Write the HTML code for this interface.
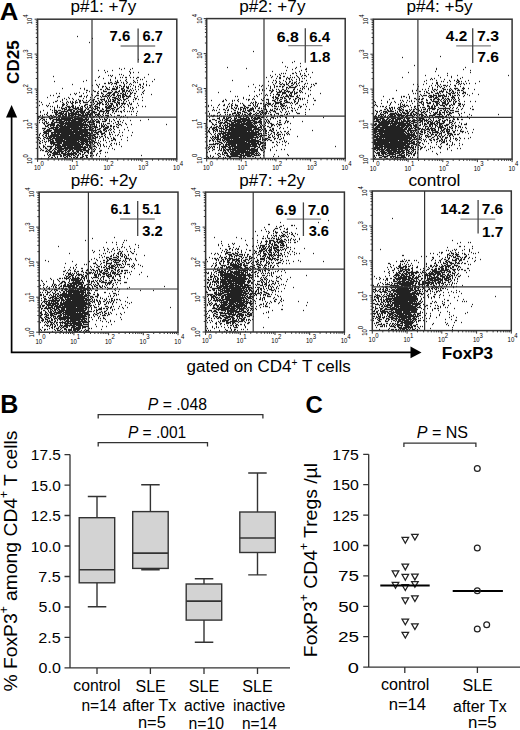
<!DOCTYPE html>
<html><head><meta charset="utf-8"><style>
html,body{margin:0;padding:0;background:#fff;width:520px;height:730px;overflow:hidden}
svg{display:block}
text{font-family:"Liberation Sans",sans-serif;fill:#000}
</style></head><body>
<svg width="520" height="730" viewBox="0 0 520 730">
<defs><path id="dp1" d="M77 36.5h1m14 2h1m-4 4h1m48 17h1m-20 9h1m4 0h1m7 0h1m-12 1h1m8 0h1m-33 1h1m5 0h1m7 0h1m-6 1h1m21 0h1m-25 1h1m24 0h1m2 0h1m4 0h1m-9 1h1m-12 1h1m1 0h1m26 0h1m-41 1h1m1 0h1m1 0h1m10 0h1m5 0h1m-77 1h1m45 0h1m11 0h1m-14 1h1m16 0h1m4 0h1m1 0h1m2 0h2m3 0h1m2 0h1m3 0h2m5 0h1m-42 1h1m11 0h1m20 0h1m-27 1h1m15 0h1m13 0h1m1 0h1m11 0h1m-69 1h1m8 0h1m14 0h1m6 0h1m2 0h1m4 0h1m7 0h1m3 0h1m-84 1h1m28 0h1m31 0h1m1 0h1m8 0h1m7 0h1m11 0h1m5 0h1m-45 1h1m1 0h2m4 0h3m2 0h1m1 0h1m3 0h1m5 0h1m1 0h1m1 0h1m-34 1h2m2 0h2m2 0h1m1 0h3m6 0h1m2 0h1m3 0h1m12 0h1m-72 1h1m23 0h1m2 0h1m11 0h1m4 0h1m7 0h1m4 0h1m1 0h1m7 0h2m2 0h1m2 0h1m-55 1h1m4 0h1m21 0h2m3 0h1m8 0h1m6 0h1m5 0h1m2 0h1m-52 1h1m3 0h2m1 0h1m7 0h1m1 0h1m1 0h1m3 0h1m1 0h2m1 0h1m1 0h1m1 0h1m4 0h1m2 0h1m3 0h1m-45 1h1m3 0h1m3 0h1m2 0h1m6 0h2m1 0h1m3 0h1m2 0h3m6 0h1m4 0h1m2 0h1m-82 1h1m17 0h1m3 0h1m21 0h2m4 0h3m1 0h2m3 0h3m3 0h2m3 0h1m9 0h1m-59 1h1m15 0h2m3 0h1m1 0h3m2 0h5m4 0h2m1 0h1m5 0h1m4 0h1m2 0h1m-53 1h2m5 0h1m9 0h1m7 0h1m7 0h1m2 0h3m1 0h2m1 0h1m1 0h1m1 0h1m10 0h1m-56 1h1m4 0h2m2 0h1m4 0h4m5 0h1m2 0h2m1 0h2m2 0h3m1 0h1m1 0h2m6 0h1m6 0h1m-65 1h1m6 0h1m10 0h1m3 0h1m6 0h4m2 0h4m4 0h1m2 0h1m4 0h1m1 0h1m9 0h1m-87 1h1m2 0h1m14 0h1m1 0h1m6 0h1m13 0h2m2 0h2m4 0h4m2 0h2m3 0h1m1 0h2m1 0h1m1 0h1m1 0h1m2 0h2m2 0h2m7 0h1m-74 1h1m4 0h1m15 0h1m11 0h1m2 0h1m2 0h1m2 0h3m2 0h1m4 0h4m4 0h1m10 0h1m9 0h1m-102 1h1m2 0h1m27 0h1m5 0h1m4 0h1m3 0h3m3 0h1m2 0h1m1 0h3m1 0h1m1 0h2m2 0h4m1 0h2m1 0h2m2 0h1m4 0h1m-77 1h2m19 0h3m2 0h1m1 0h1m8 0h1m4 0h1m1 0h5m1 0h1m1 0h1m5 0h1m1 0h1m1 0h1m1 0h3m1 0h5m6 0h1m-91 1h1m9 0h1m10 0h1m17 0h1m3 0h1m3 0h1m6 0h1m5 0h1m1 0h1m2 0h4m2 0h1m1 0h1m1 0h2m4 0h1m5 0h1m7 0h1m-79 1h1m4 0h1m2 0h1m10 0h1m13 0h2m5 0h1m2 0h1m1 0h1m4 0h4m1 0h1m3 0h1m2 0h2m7 0h2m-75 1h1m3 0h1m6 0h1m4 0h1m11 0h1m2 0h2m5 0h5m3 0h1m1 0h1m1 0h2m1 0h1m1 0h2m1 0h1m2 0h3m7 0h1m1 0h1m2 0h1m-82 1h1m4 0h1m13 0h1m2 0h2m1 0h1m3 0h1m2 0h1m2 0h2m4 0h1m2 0h1m2 0h1m1 0h1m1 0h1m1 0h1m2 0h3m2 0h2m1 0h1m2 0h1m3 0h1m13 0h1m-104 1h1m15 0h2m3 0h1m6 0h1m2 0h1m1 0h1m2 0h1m3 0h2m2 0h1m4 0h1m4 0h1m1 0h2m2 0h1m2 0h1m2 0h2m1 0h3m1 0h3m2 0h1m5 0h1m2 0h1m6 0h1m-93 1h1m11 0h1m8 0h1m3 0h1m1 0h1m1 0h1m1 0h2m1 0h3m1 0h1m3 0h5m2 0h2m1 0h1m3 0h1m1 0h3m3 0h1m1 0h1m6 0h2m1 0h3m3 0h1m5 0h1m-81 1h1m13 0h1m2 0h1m4 0h2m2 0h1m4 0h1m13 0h1m2 0h4m1 0h1m3 0h1m1 0h1m1 0h3m3 0h1m1 0h2m1 0h5m3 0h1m1 0h1m5 0h1m-96 1h1m19 0h3m2 0h1m4 0h1m12 0h3m3 0h1m1 0h1m2 0h2m1 0h1m2 0h2m1 0h2m1 0h1m2 0h2m3 0h2m1 0h1m2 0h1m1 0h1m2 0h1m2 0h2m-93 1h1m6 0h1m1 0h1m8 0h1m4 0h2m2 0h1m5 0h2m5 0h1m4 0h2m3 0h3m3 0h1m3 0h1m7 0h1m1 0h3m1 0h1m2 0h2m3 0h1m6 0h1m9 0h1m-92 1h1m2 0h1m1 0h1m4 0h1m4 0h1m4 0h3m1 0h3m1 0h1m5 0h2m1 0h1m2 0h1m2 0h1m3 0h4m7 0h2m1 0h4m1 0h1m3 0h1m2 0h1m2 0h1m4 0h1m13 0h1m2 0h1m-92 1h1m2 0h1m1 0h1m1 0h1m3 0h2m1 0h3m1 0h2m1 0h1m1 0h2m1 0h1m1 0h1m2 0h1m1 0h1m1 0h2m1 0h1m2 0h1m1 0h3m5 0h6m3 0h2m3 0h1m1 0h1m2 0h1m5 0h1m1 0h1m3 0h1m-83 1h1m6 0h4m1 0h1m2 0h1m3 0h6m1 0h3m3 0h1m1 0h1m2 0h1m1 0h1m1 0h3m1 0h1m2 0h1m3 0h4m1 0h3m3 0h2m11 0h1m2 0h1m-84 1h1m3 0h1m7 0h1m1 0h3m1 0h5m2 0h2m1 0h5m2 0h1m1 0h2m3 0h1m1 0h2m1 0h1m4 0h2m2 0h1m3 0h1m1 0h1m1 0h1m1 0h2m6 0h1m7 0h1m-90 1h1m8 0h1m1 0h3m1 0h3m3 0h1m2 0h5m1 0h2m2 0h1m2 0h3m1 0h2m3 0h4m4 0h2m1 0h2m3 0h5m2 0h2m2 0h1m6 0h1m-84 1h1m13 0h1m1 0h2m3 0h7m2 0h2m1 0h2m1 0h9m3 0h2m2 0h3m4 0h6m1 0h3m4 0h1m1 0h2m1 0h1m1 0h2m2 0h1m2 0h1m1 0h1m1 0h1m1 0h1m3 0h1m-98 1h1m6 0h1m4 0h1m1 0h4m1 0h3m1 0h1m2 0h1m1 0h1m2 0h3m1 0h4m1 0h5m1 0h4m1 0h6m2 0h1m3 0h1m2 0h1m1 0h1m3 0h1m8 0h1m-75 1h1m7 0h2m1 0h6m1 0h2m1 0h9m1 0h1m2 0h3m1 0h1m1 0h2m1 0h3m1 0h1m3 0h2m3 0h1m1 0h1m1 0h2m5 0h1m21 0h1m-93 1h1m1 0h1m8 0h3m2 0h3m1 0h3m1 0h2m1 0h10m1 0h2m1 0h8m2 0h5m2 0h1m7 0h1m20 0h1m-92 1h1m1 0h1m4 0h1m2 0h2m1 0h1m2 0h1m1 0h3m1 0h2m1 0h2m1 0h6m1 0h1m2 0h10m1 0h2m1 0h1m2 0h1m1 0h2m1 0h1m2 0h1m1 0h4m2 0h1m5 0h3m5 0h1m10 0h1m-99 1h2m2 0h1m5 0h2m1 0h2m1 0h2m2 0h3m1 0h5m1 0h2m1 0h2m1 0h5m2 0h4m1 0h2m1 0h2m2 0h2m1 0h1m1 0h2m1 0h2m4 0h2m5 0h1m6 0h1m1 0h1m-82 1h3m4 0h1m2 0h3m1 0h2m1 0h1m1 0h15m1 0h5m1 0h5m2 0h4m5 0h1m1 0h1m4 0h1m13 0h1m6 0h1m-90 1h1m2 0h2m6 0h4m3 0h1m1 0h2m1 0h12m1 0h9m2 0h2m1 0h1m2 0h1m7 0h1m4 0h1m2 0h1m8 0h1m-77 1h1m2 0h2m1 0h1m3 0h1m2 0h18m1 0h17m2 0h2m1 0h1m1 0h2m2 0h1m1 0h1m1 0h3m2 0h1m3 0h1m5 0h1m28 0h1m-110 1h1m2 0h1m1 0h1m7 0h2m2 0h6m2 0h12m2 0h7m1 0h2m2 0h1m1 0h2m1 0h1m2 0h1m6 0h2m2 0h1m4 0h1m8 0h1m6 0h1m9 0h1m-96 1h2m5 0h2m2 0h1m2 0h6m1 0h1m1 0h2m1 0h12m1 0h3m1 0h3m1 0h3m1 0h4m2 0h4m3 0h1m1 0h1m5 0h2m1 0h1m-82 1h1m2 0h1m1 0h1m1 0h1m1 0h1m2 0h2m1 0h10m1 0h17m1 0h3m1 0h7m2 0h4m15 0h1m2 0h1m3 0h1m-80 1h2m1 0h2m3 0h4m4 0h25m1 0h1m3 0h1m3 0h2m4 0h1m1 0h1m1 0h1m3 0h3m3 0h1m4 0h1m6 0h1m-82 1h1m3 0h7m2 0h2m1 0h4m1 0h23m1 0h6m1 0h1m4 0h1m1 0h1m1 0h1m10 0h2m1 0h2m5 0h1m4 0h1m34 0h1m-122 1h1m1 0h2m1 0h5m1 0h7m1 0h2m1 0h22m1 0h1m3 0h1m1 0h1m2 0h1m1 0h2m1 0h1m1 0h1m3 0h2m6 0h1m2 0h1m-77 1h3m2 0h1m2 0h1m2 0h2m1 0h20m1 0h3m1 0h1m1 0h1m1 0h3m1 0h5m2 0h1m1 0h4m2 0h2m1 0h2m1 0h2m1 0h1m-69 1h1m2 0h8m1 0h28m1 0h3m2 0h4m3 0h1m1 0h1m1 0h4m4 0h1m3 0h2m8 0h1m-86 1h4m3 0h5m1 0h3m1 0h11m1 0h11m2 0h2m3 0h2m1 0h2m1 0h1m3 0h2m3 0h4m2 0h1m2 0h1m-70 1h1m2 0h3m3 0h40m2 0h1m1 0h3m3 0h3m3 0h1m1 0h1m2 0h1m9 0h1m-82 1h1m2 0h6m2 0h18m1 0h5m1 0h9m1 0h8m3 0h1m2 0h2m1 0h1m1 0h1m1 0h1m8 0h1m8 0h1m-85 1h7m3 0h34m3 0h1m1 0h1m1 0h1m2 0h4m3 0h2m6 0h1m-71 1h4m1 0h1m2 0h39m1 0h2m1 0h5m1 0h2m2 0h1m4 0h1m1 0h1m2 0h1m4 0h1m2 0h1m9 0h1m-93 1h1m3 0h5m2 0h2m1 0h2m1 0h3m1 0h13m1 0h8m1 0h9m3 0h2m3 0h4m4 0h1m-71 1h1m3 0h1m2 0h1m1 0h1m2 0h37m1 0h2m2 0h3m1 0h2m2 0h2m2 0h1m3 0h2m1 0h1m5 0h1m-80 1h1m2 0h1m2 0h2m1 0h1m1 0h9m1 0h9m1 0h10m1 0h14m9 0h1m10 0h1m1 0h1m4 0h1m8 0h1m-89 1h1m2 0h1m1 0h40m1 0h2m1 0h1m1 0h2m1 0h1m1 0h1m1 0h2m2 0h1m4 0h1m9 0h1m-83 1h2m4 0h2m1 0h1m1 0h3m1 0h2m1 0h28m1 0h1m1 0h4m1 0h2m1 0h3m2 0h1m4 0h1m1 0h1m5 0h1m13 0h1m-88 1h1m2 0h1m2 0h5m1 0h35m1 0h3m1 0h4m3 0h1m3 0h1m4 0h1m2 0h1m1 0h2m-77 1h1m5 0h1m3 0h1m1 0h3m2 0h8m1 0h28m3 0h1m7 0h1m9 0h3m5 0h1m-83 1h1m2 0h1m5 0h3m1 0h2m1 0h10m1 0h13m1 0h8m1 0h1m1 0h3m1 0h1m2 0h1m4 0h1m1 0h1m5 0h2m2 0h1m11 0h1m-88 1h1m3 0h1m1 0h1m1 0h1m1 0h4m2 0h21m1 0h2m1 0h10m1 0h3m5 0h1m8 0h1m-71 1h1m2 0h1m2 0h1m4 0h12m1 0h16m1 0h4m1 0h3m1 0h4m1 0h3m1 0h1m7 0h1m12 0h1m-81 1h2m9 0h5m2 0h5m1 0h17m1 0h4m1 0h2m1 0h2m1 0h1m1 0h1m2 0h1m1 0h1m11 0h1m2 0h1m1 0h1m-72 1h1m5 0h1m1 0h7m2 0h22m1 0h4m1 0h1m2 0h1m3 0h1m2 0h1m2 0h1m6 0h1m5 0h1m2 0h1m-77 1h1m9 0h1m1 0h6m1 0h19m1 0h1m3 0h5m3 0h1m3 0h1m1 0h1m2 0h1m7 0h1m-73 1h1m3 0h2m2 0h6m2 0h1m1 0h9m1 0h6m1 0h9m1 0h2m1 0h1m1 0h2m2 0h3m4 0h1m3 0h1m1 0h1m2 0h1m11 0h1m-83 1h1m3 0h1m1 0h1m4 0h2m3 0h7m2 0h24m1 0h3m4 0h1m-57 1h1m4 0h2m3 0h2m2 0h2m1 0h24m2 0h3m2 0h1m1 0h2m2 0h1m4 0h1m8 0h1m3 0h1m-72 1h1m5 0h1m1 0h2m2 0h1m1 0h2m1 0h6m1 0h3m1 0h4m1 0h12m2 0h2m1 0h1m1 0h1m1 0h1m18 0h1m-75 1h1m1 0h2m2 0h1m1 0h2m2 0h1m1 0h1m2 0h5m2 0h3m1 0h3m1 0h2m2 0h6m1 0h6m5 0h1m5 0h2m-57 1h3m1 0h3m2 0h2m1 0h7m1 0h1m1 0h3m2 0h2m2 0h3m1 0h3m3 0h3m2 0h1m1 0h2m4 0h2m-53 1h1m1 0h2m1 0h7m1 0h2m2 0h2m1 0h1m2 0h1m1 0h3m1 0h2m3 0h1m1 0h2m1 0h2m1 0h2m13 0h1m1 0h1m-61 1h1m4 0h6m1 0h1m1 0h5m1 0h10m2 0h2m3 0h1m3 0h1m1 0h3m4 0h1m2 0h1m-54 1h1m1 0h2m2 0h8m2 0h11m1 0h2m1 0h1m1 0h1m1 0h2m12 0h1m-53 1h1m3 0h1m1 0h1m1 0h3m5 0h2m1 0h3m1 0h3m1 0h1m1 0h2m2 0h2m3 0h1m2 0h3m2 0h2m1 0h1m2 0h1m44 0h1m-93 1h1m4 0h1m2 0h1m2 0h2m1 0h1m2 0h2m1 0h2m4 0h1m1 0h1m4 0h2m2 0h1m3 0h1m8 0h1m5 0h1m-58 1h1m2 0h2m2 0h1m1 0h1m6 0h2m1 0h1m3 0h1m1 0h2m1 0h2m2 0h3m3 0h2m-47 1h1m20 0h1m2 0h2m2 0h1m5 0h2m3 0h1m3 0h1m23 0h1"/></defs>
<use href="#dp1" fill="none" stroke="#000" stroke-opacity="0.25" stroke-width="2.2"/>
<use href="#dp1" fill="none" stroke="#222" stroke-width="1.1"/>
<path d="M92 19.2V158.9M37.6 117.1H176.8" stroke="#333" stroke-width="1.2" fill="none"/>
<rect x="37.6" y="19.2" width="139.20" height="139.70" fill="none" stroke="#333" stroke-width="1.5"/>
<path d="M48.1 158.9v1.8M37.6 148.4h-1.8M54.2 158.9v1.8M37.6 142.2h-1.8M58.6 158.9v1.8M37.6 137.9h-1.8M61.9 158.9v1.8M37.6 134.5h-1.8M64.7 158.9v1.8M37.6 131.7h-1.8M67.0 158.9v1.8M37.6 129.4h-1.8M69.0 158.9v1.8M37.6 127.4h-1.8M70.8 158.9v1.8M37.6 125.6h-1.8M72.4 158.9v3M37.6 124.0h-3M82.9 158.9v1.8M37.6 113.5h-1.8M89.0 158.9v1.8M37.6 107.3h-1.8M93.4 158.9v1.8M37.6 102.9h-1.8M96.7 158.9v1.8M37.6 99.6h-1.8M99.5 158.9v1.8M37.6 96.8h-1.8M101.8 158.9v1.8M37.6 94.5h-1.8M103.8 158.9v1.8M37.6 92.4h-1.8M105.6 158.9v1.8M37.6 90.6h-1.8M107.2 158.9v3M37.6 89.0h-3M117.7 158.9v1.8M37.6 78.5h-1.8M123.8 158.9v1.8M37.6 72.4h-1.8M128.2 158.9v1.8M37.6 68.0h-1.8M131.5 158.9v1.8M37.6 64.6h-1.8M134.3 158.9v1.8M37.6 61.9h-1.8M136.6 158.9v1.8M37.6 59.5h-1.8M138.6 158.9v1.8M37.6 57.5h-1.8M140.4 158.9v1.8M37.6 55.7h-1.8M142.0 158.9v3M37.6 54.1h-3M152.5 158.9v1.8M37.6 43.6h-1.8M158.6 158.9v1.8M37.6 37.5h-1.8M163.0 158.9v1.8M37.6 33.1h-1.8M166.3 158.9v1.8M37.6 29.7h-1.8M169.1 158.9v1.8M37.6 26.9h-1.8M171.4 158.9v1.8M37.6 24.6h-1.8M173.4 158.9v1.8M37.6 22.6h-1.8M175.2 158.9v1.8M37.6 20.8h-1.8M176.8 158.9v3M37.6 19.2h-3M37.6 158.9h-3M37.6 158.9v3" stroke="#333" stroke-width="1" fill="none"/>
<text x="33.9" y="170.3" font-size="6.6" fill="#222" textLength="10" lengthAdjust="spacingAndGlyphs">10<tspan dy="-4.2">0</tspan></text>
<text transform="translate(32.4,164.1) rotate(-90)" font-size="6.6" fill="#222" textLength="10" lengthAdjust="spacingAndGlyphs">10<tspan dy="-4.2">0</tspan></text>
<text x="68.7" y="170.3" font-size="6.6" fill="#222" textLength="10" lengthAdjust="spacingAndGlyphs">10<tspan dy="-4.2">1</tspan></text>
<text transform="translate(32.4,129.2) rotate(-90)" font-size="6.6" fill="#222" textLength="10" lengthAdjust="spacingAndGlyphs">10<tspan dy="-4.2">1</tspan></text>
<text x="103.5" y="170.3" font-size="6.6" fill="#222" textLength="10" lengthAdjust="spacingAndGlyphs">10<tspan dy="-4.2">2</tspan></text>
<text transform="translate(32.4,94.2) rotate(-90)" font-size="6.6" fill="#222" textLength="10" lengthAdjust="spacingAndGlyphs">10<tspan dy="-4.2">2</tspan></text>
<text x="138.3" y="170.3" font-size="6.6" fill="#222" textLength="10" lengthAdjust="spacingAndGlyphs">10<tspan dy="-4.2">3</tspan></text>
<text transform="translate(32.4,59.3) rotate(-90)" font-size="6.6" fill="#222" textLength="10" lengthAdjust="spacingAndGlyphs">10<tspan dy="-4.2">3</tspan></text>
<text x="173.1" y="170.3" font-size="6.6" fill="#222" textLength="10" lengthAdjust="spacingAndGlyphs">10<tspan dy="-4.2">4</tspan></text>
<text transform="translate(32.4,24.4) rotate(-90)" font-size="6.6" fill="#222" textLength="10" lengthAdjust="spacingAndGlyphs">10<tspan dy="-4.2">4</tspan></text>
<text x="70.40" y="12.30" font-size="16.6" textLength="66.03" lengthAdjust="spacingAndGlyphs">p#1: +7y</text>
<path d="M120.6 46H155.2" stroke="#808080" stroke-width="1.3"/>
<path d="M138.1 28.5V62.7" stroke="#444" stroke-width="1.3"/>
<text x="109.56" y="41.20" font-size="14.6" font-weight="bold" textLength="20.78" lengthAdjust="spacingAndGlyphs">7.6</text>
<text x="142.57" y="41.20" font-size="14.6" font-weight="bold" textLength="20.17" lengthAdjust="spacingAndGlyphs">6.7</text>
<text x="143.21" y="62.50" font-size="14.6" font-weight="bold" textLength="19.50" lengthAdjust="spacingAndGlyphs">2.7</text>
<defs><path id="dp2" d="M253 51.5h1m40 10h1m-13 1h1m9 0h1m7 1h1m-16 3h1m14 0h1m-74 1h1m59 0h1m8 0h1m-51 1h1m48 0h1m10 0h1m-15 1h1m12 0h2m-21 1h1m14 0h1m-30 1h1m26 0h1m6 0h1m-12 1h1m16 0h1m-32 1h1m1 0h1m1 0h1m6 0h2m2 0h1m3 0h1m3 0h1m-30 1h1m3 0h1m20 0h1m7 0h1m-39 1h1m9 0h1m9 0h1m5 0h1m5 0h1m1 0h2m-34 1h1m4 0h1m5 0h2m12 0h1m3 0h1m4 0h1m-41 1h1m4 0h1m7 0h2m6 0h1m2 0h1m1 0h1m1 0h1m3 0h1m11 0h1m-35 1h1m2 0h2m5 0h1m1 0h2m9 0h1m2 0h1m1 0h1m-19 1h1m2 0h1m1 0h1m4 0h1m2 0h1m-68 1h1m40 0h1m1 0h1m7 0h1m8 0h1m6 0h1m6 0h1m-39 1h1m7 0h1m2 0h1m5 0h1m3 0h2m5 0h1m4 0h2m-31 1h1m3 0h1m3 0h1m5 0h1m2 0h1m2 0h1m1 0h2m3 0h1m-25 1h1m3 0h1m2 0h1m3 0h1m1 0h1m2 0h2m1 0h1m1 0h1m1 0h1m6 0h1m1 0h1m7 0h2m-64 1h1m19 0h1m6 0h2m1 0h2m1 0h2m5 0h1m2 0h1m7 0h1m6 0h1m1 0h1m-55 1h1m2 0h1m5 0h1m5 0h1m9 0h1m3 0h1m2 0h2m4 0h1m1 0h1m14 0h1m-67 1h1m12 0h1m8 0h1m3 0h1m1 0h2m1 0h2m1 0h2m5 0h2m4 0h2m5 0h1m1 0h1m1 0h1m4 0h1m-57 1h1m14 0h1m3 0h1m7 0h1m3 0h2m1 0h7m7 0h1m6 0h1m-45 1h1m3 0h1m15 0h1m1 0h1m5 0h1m5 0h1m1 0h1m1 0h1m3 0h1m-50 1h1m2 0h1m9 0h1m3 0h1m1 0h1m3 0h2m2 0h1m6 0h2m2 0h1m4 0h1m5 0h1m-50 1h1m2 0h1m1 0h1m4 0h2m1 0h2m5 0h1m1 0h1m2 0h2m1 0h1m5 0h1m5 0h2m9 0h1m-81 1h1m23 0h1m16 0h2m3 0h1m2 0h3m2 0h1m1 0h4m2 0h1m1 0h1m4 0h1m1 0h1m-84 1h1m52 0h1m5 0h4m1 0h4m2 0h1m1 0h3m1 0h1m1 0h2m2 0h1m1 0h1m-42 1h1m8 0h1m6 0h1m4 0h4m4 0h2m2 0h3m8 0h1m14 0h1m-62 1h1m6 0h1m6 0h1m2 0h4m2 0h1m3 0h1m2 0h1m1 0h1m2 0h1m15 0h1m-62 1h1m6 0h1m8 0h1m1 0h1m2 0h1m7 0h2m1 0h1m4 0h2m1 0h3m5 0h1m1 0h1m8 0h1m-74 1h1m1 0h1m16 0h1m2 0h1m15 0h1m1 0h1m2 0h1m4 0h1m1 0h4m1 0h4m2 0h2m10 0h1m-66 1h1m20 0h1m7 0h2m1 0h3m2 0h3m1 0h1m3 0h1m8 0h2m-56 1h1m9 0h1m9 0h1m9 0h1m2 0h3m3 0h1m1 0h2m3 0h2m4 0h2m2 0h2m1 0h1m1 0h1m8 0h1m-89 1h1m12 0h1m7 0h1m1 0h2m2 0h1m1 0h1m6 0h1m4 0h3m6 0h1m1 0h1m2 0h2m4 0h1m2 0h1m3 0h1m1 0h1m2 0h1m1 0h1m1 0h1m-92 1h1m11 0h1m2 0h1m5 0h1m1 0h1m2 0h1m10 0h1m13 0h2m4 0h1m3 0h3m2 0h1m1 0h1m4 0h3m7 0h1m3 0h1m8 0h1m6 0h2m-94 1h2m8 0h1m5 0h1m16 0h1m12 0h1m5 0h2m4 0h2m2 0h1m1 0h2m6 0h2m2 0h1m-48 1h1m1 0h1m1 0h2m9 0h1m1 0h1m6 0h6m4 0h5m1 0h1m2 0h1m2 0h1m9 0h1m-79 1h1m2 0h1m7 0h1m1 0h1m7 0h1m1 0h1m2 0h1m2 0h1m1 0h2m1 0h1m3 0h4m2 0h1m1 0h4m1 0h2m1 0h2m5 0h1m1 0h1m3 0h2m-79 1h1m4 0h1m3 0h1m2 0h1m3 0h1m7 0h1m9 0h1m1 0h1m1 0h1m5 0h1m1 0h2m1 0h3m1 0h1m2 0h1m4 0h3m12 0h1m7 0h1m1 0h1m7 0h1m-106 1h1m2 0h1m6 0h1m4 0h2m6 0h2m2 0h3m5 0h2m3 0h3m2 0h1m1 0h1m1 0h1m6 0h2m1 0h1m3 0h1m2 0h1m6 0h4m1 0h1m4 0h1m7 0h1m-92 1h1m18 0h1m1 0h1m1 0h1m5 0h1m6 0h2m8 0h1m1 0h2m5 0h3m2 0h1m3 0h1m1 0h3m1 0h1m1 0h1m1 0h2m1 0h1m14 0h2m4 0h1m-94 1h1m3 0h1m9 0h1m3 0h1m2 0h1m1 0h1m3 0h3m1 0h1m1 0h3m3 0h1m2 0h1m3 0h1m5 0h1m15 0h1m5 0h1m1 0h1m1 0h1m6 0h1m1 0h1m-75 1h1m4 0h2m2 0h2m1 0h1m1 0h1m2 0h3m1 0h1m2 0h4m1 0h1m2 0h2m1 0h1m1 0h1m1 0h1m8 0h2m1 0h1m3 0h1m1 0h2m2 0h1m4 0h1m1 0h1m-82 1h1m5 0h1m3 0h2m3 0h1m4 0h1m4 0h1m1 0h2m1 0h1m1 0h1m3 0h5m10 0h3m3 0h1m1 0h1m3 0h2m1 0h1m2 0h1m2 0h1m11 0h1m7 0h1m3 0h1m-98 1h1m1 0h1m1 0h1m8 0h1m1 0h2m5 0h2m4 0h1m2 0h1m1 0h1m1 0h5m1 0h1m3 0h2m2 0h2m3 0h1m3 0h3m1 0h1m7 0h1m8 0h2m2 0h1m-88 1h1m22 0h1m5 0h1m4 0h3m3 0h2m3 0h2m4 0h2m1 0h1m3 0h2m1 0h1m3 0h3m4 0h1m5 0h1m1 0h1m3 0h1m-75 1h2m4 0h2m1 0h1m6 0h2m1 0h4m3 0h3m3 0h1m5 0h1m2 0h1m1 0h3m1 0h2m3 0h1m4 0h1m5 0h1m3 0h1m10 0h1m8 0h1m-97 1h1m7 0h1m14 0h4m1 0h2m1 0h1m1 0h1m4 0h1m1 0h3m3 0h1m1 0h2m1 0h1m1 0h1m1 0h3m1 0h1m7 0h3m8 0h1m1 0h1m7 0h3m-91 1h1m10 0h1m4 0h1m1 0h1m1 0h2m1 0h1m3 0h1m1 0h2m2 0h1m1 0h2m2 0h3m2 0h2m1 0h1m3 0h2m1 0h1m1 0h1m4 0h2m2 0h1m3 0h1m5 0h1m1 0h2m17 0h1m-95 1h1m1 0h2m2 0h1m1 0h1m9 0h1m3 0h1m1 0h5m1 0h1m1 0h1m1 0h3m1 0h2m1 0h1m2 0h5m3 0h1m7 0h1m2 0h1m5 0h3m-71 1h2m3 0h1m3 0h1m1 0h2m2 0h1m2 0h1m4 0h2m1 0h4m1 0h5m2 0h3m3 0h1m1 0h3m1 0h2m3 0h1m6 0h1m2 0h1m1 0h1m2 0h1m10 0h1m-85 1h1m9 0h1m3 0h2m1 0h1m1 0h3m3 0h1m1 0h1m1 0h3m2 0h1m2 0h3m2 0h2m1 0h2m1 0h3m1 0h3m2 0h1m4 0h3m3 0h1m2 0h1m4 0h2m6 0h1m29 0h1m-107 1h3m3 0h2m1 0h3m2 0h1m2 0h3m3 0h7m1 0h2m1 0h1m1 0h8m9 0h1m2 0h1m1 0h1m10 0h1m-80 1h1m4 0h3m4 0h1m2 0h1m2 0h3m2 0h1m3 0h2m1 0h13m2 0h1m1 0h4m2 0h2m3 0h1m1 0h1m2 0h1m-62 1h2m4 0h2m3 0h1m1 0h1m1 0h1m1 0h5m1 0h9m1 0h13m4 0h2m5 0h1m1 0h1m10 0h2m5 0h1m-78 1h2m7 0h2m5 0h2m2 0h3m2 0h12m1 0h4m2 0h4m1 0h4m2 0h1m1 0h1m1 0h2m7 0h1m7 0h1m1 0h2m13 0h1m-92 1h1m4 0h1m1 0h1m1 0h3m1 0h4m3 0h5m1 0h5m1 0h2m1 0h7m1 0h8m3 0h1m1 0h1m1 0h1m9 0h2m4 0h1m1 0h1m-76 1h1m6 0h3m1 0h2m2 0h3m1 0h3m1 0h5m1 0h11m1 0h4m3 0h2m3 0h1m2 0h1m1 0h2m5 0h1m6 0h1m5 0h1m-79 1h2m1 0h2m3 0h1m4 0h1m1 0h1m1 0h24m1 0h1m4 0h1m1 0h1m2 0h1m6 0h3m2 0h1m1 0h4m-68 1h1m4 0h2m1 0h1m1 0h4m1 0h15m2 0h8m1 0h1m1 0h1m2 0h1m1 0h1m2 0h1m5 0h2m1 0h1m4 0h1m-69 1h1m4 0h2m1 0h2m2 0h1m1 0h1m1 0h3m1 0h15m1 0h10m3 0h2m1 0h2m2 0h2m2 0h1m5 0h1m-71 1h1m2 0h2m1 0h4m1 0h1m2 0h1m1 0h1m1 0h3m1 0h5m1 0h22m1 0h4m1 0h1m5 0h2m9 0h1m6 0h1m-79 1h1m2 0h3m1 0h1m2 0h5m1 0h2m2 0h23m2 0h5m2 0h1m2 0h2m6 0h2m5 0h1m3 0h1m-75 1h1m2 0h2m1 0h3m3 0h1m1 0h2m1 0h26m1 0h8m1 0h1m1 0h2m4 0h1m1 0h2m16 0h1m-83 1h1m4 0h2m1 0h2m1 0h1m1 0h1m3 0h2m1 0h26m1 0h1m2 0h2m1 0h1m1 0h1m1 0h2m2 0h3m1 0h1m2 0h1m35 0h1m-105 1h2m3 0h1m1 0h1m1 0h1m1 0h5m1 0h1m2 0h2m1 0h16m1 0h2m1 0h3m1 0h4m1 0h1m2 0h1m1 0h2m4 0h2m7 0h1m3 0h2m2 0h1m-82 1h1m1 0h1m3 0h1m7 0h1m1 0h36m6 0h1m2 0h1m4 0h2m2 0h2m2 0h1m5 0h1m-78 1h1m4 0h1m2 0h8m1 0h30m1 0h4m1 0h1m1 0h2m4 0h1m2 0h1m2 0h1m8 0h1m1 0h1m-78 1h1m2 0h1m2 0h1m1 0h2m1 0h2m1 0h35m1 0h1m6 0h1m1 0h1m3 0h1m1 0h1m1 0h3m1 0h1m1 0h1m2 0h1m1 0h1m-75 1h1m1 0h2m1 0h1m2 0h6m1 0h27m1 0h1m1 0h7m2 0h1m2 0h1m4 0h2m5 0h1m-78 1h1m4 0h2m1 0h1m1 0h2m1 0h1m1 0h4m1 0h27m2 0h2m1 0h3m6 0h1m3 0h1m1 0h1m3 0h1m1 0h1m16 0h1m-88 1h1m1 0h1m1 0h5m2 0h18m1 0h19m1 0h1m1 0h1m5 0h3m2 0h1m4 0h1m4 0h1m-73 1h1m1 0h1m1 0h1m1 0h2m1 0h1m2 0h30m2 0h1m1 0h1m2 0h1m1 0h1m2 0h3m6 0h2m1 0h1m3 0h1m1 0h1m-72 1h1m1 0h1m1 0h5m1 0h1m1 0h6m1 0h1m1 0h17m1 0h5m3 0h2m1 0h5m1 0h2m4 0h1m4 0h2m-72 1h2m1 0h2m3 0h1m2 0h1m1 0h3m1 0h33m3 0h1m1 0h2m1 0h1m2 0h2m12 0h1m-76 1h1m3 0h1m1 0h1m1 0h3m3 0h1m1 0h1m1 0h18m1 0h15m15 0h1m5 0h1m1 0h1m1 0h1m-68 1h3m2 0h1m1 0h21m1 0h8m1 0h2m1 0h4m1 0h1m6 0h2m3 0h1m1 0h1m5 0h1m-73 1h1m1 0h4m2 0h2m3 0h1m1 0h22m1 0h8m1 0h3m1 0h2m22 0h1m-80 1h7m1 0h1m1 0h2m2 0h1m1 0h11m1 0h20m1 0h3m4 0h1m10 0h1m5 0h1m-76 1h1m11 0h1m3 0h1m1 0h2m1 0h2m1 0h5m1 0h14m1 0h5m2 0h1m2 0h4m11 0h1m7 0h1m-77 1h1m1 0h1m1 0h2m4 0h1m1 0h7m1 0h29m1 0h1m1 0h2m11 0h1m60 0h1m-128 1h1m1 0h1m1 0h1m1 0h1m2 0h1m1 0h1m2 0h4m2 0h3m1 0h1m1 0h16m4 0h2m2 0h2m2 0h1m1 0h2m6 0h1m-64 1h1m2 0h1m6 0h1m1 0h1m1 0h1m1 0h1m3 0h2m1 0h18m1 0h4m2 0h1m2 0h1m1 0h1m2 0h1m-58 1h1m4 0h2m4 0h1m1 0h1m1 0h2m1 0h10m1 0h21m2 0h2m1 0h1m6 0h1m10 0h1m2 0h1m-73 1h1m5 0h1m1 0h2m1 0h3m1 0h2m1 0h1m1 0h14m1 0h1m1 0h9m3 0h2m7 0h1m5 0h1m-68 1h1m13 0h1m1 0h1m2 0h1m1 0h4m1 0h15m1 0h7m6 0h1m-58 1h1m14 0h1m1 0h3m2 0h1m1 0h24m1 0h1m1 0h1m4 0h1m-49 1h1m2 0h2m2 0h1m1 0h4m2 0h10m1 0h3m1 0h9m1 0h3m1 0h1m-43 1h1m2 0h1m1 0h2m3 0h1m2 0h12m1 0h1m1 0h5m1 0h4m1 0h1m1 0h1m1 0h1m13 0h1m12 0h1m-78 1h1m7 0h1m5 0h1m1 0h3m2 0h7m2 0h12m2 0h6m3 0h1m24 0h1m-82 1h1m2 0h1m2 0h1m5 0h2m6 0h15m1 0h2m2 0h4m1 0h2m19 0h1m4 0h1m-71 1h1m3 0h1m5 0h1m4 0h1m1 0h1m3 0h2m8 0h3m1 0h1m1 0h1m9 0h1m4 0h1"/></defs>
<use href="#dp2" fill="none" stroke="#000" stroke-opacity="0.25" stroke-width="2.2"/>
<use href="#dp2" fill="none" stroke="#222" stroke-width="1.1"/>
<path d="M264 18.6V158.5M206.7 116.2H345.2" stroke="#333" stroke-width="1.2" fill="none"/>
<rect x="206.7" y="18.6" width="138.50" height="139.90" fill="none" stroke="#333" stroke-width="1.5"/>
<path d="M217.1 158.5v1.8M206.7 148.0h-1.8M223.2 158.5v1.8M206.7 141.8h-1.8M227.5 158.5v1.8M206.7 137.4h-1.8M230.9 158.5v1.8M206.7 134.1h-1.8M233.6 158.5v1.8M206.7 131.3h-1.8M236.0 158.5v1.8M206.7 128.9h-1.8M238.0 158.5v1.8M206.7 126.9h-1.8M239.7 158.5v1.8M206.7 125.1h-1.8M241.3 158.5v3M206.7 123.5h-3M251.7 158.5v1.8M206.7 113.0h-1.8M257.8 158.5v1.8M206.7 106.8h-1.8M262.2 158.5v1.8M206.7 102.5h-1.8M265.5 158.5v1.8M206.7 99.1h-1.8M268.3 158.5v1.8M206.7 96.3h-1.8M270.6 158.5v1.8M206.7 94.0h-1.8M272.6 158.5v1.8M206.7 91.9h-1.8M274.4 158.5v1.8M206.7 90.2h-1.8M275.9 158.5v3M206.7 88.5h-3M286.4 158.5v1.8M206.7 78.0h-1.8M292.5 158.5v1.8M206.7 71.9h-1.8M296.8 158.5v1.8M206.7 67.5h-1.8M300.2 158.5v1.8M206.7 64.1h-1.8M302.9 158.5v1.8M206.7 61.3h-1.8M305.2 158.5v1.8M206.7 59.0h-1.8M307.2 158.5v1.8M206.7 57.0h-1.8M309.0 158.5v1.8M206.7 55.2h-1.8M310.6 158.5v3M206.7 53.6h-3M321.0 158.5v1.8M206.7 43.0h-1.8M327.1 158.5v1.8M206.7 36.9h-1.8M331.4 158.5v1.8M206.7 32.5h-1.8M334.8 158.5v1.8M206.7 29.1h-1.8M337.5 158.5v1.8M206.7 26.4h-1.8M339.8 158.5v1.8M206.7 24.0h-1.8M341.8 158.5v1.8M206.7 22.0h-1.8M343.6 158.5v1.8M206.7 20.2h-1.8M345.2 158.5v3M206.7 18.6h-3M206.7 158.5h-3M206.7 158.5v3" stroke="#333" stroke-width="1" fill="none"/>
<text x="203.0" y="169.9" font-size="6.6" fill="#222" textLength="10" lengthAdjust="spacingAndGlyphs">10<tspan dy="-4.2">0</tspan></text>
<text transform="translate(201.5,163.7) rotate(-90)" font-size="6.6" fill="#222" textLength="10" lengthAdjust="spacingAndGlyphs">10<tspan dy="-4.2">0</tspan></text>
<text x="237.6" y="169.9" font-size="6.6" fill="#222" textLength="10" lengthAdjust="spacingAndGlyphs">10<tspan dy="-4.2">1</tspan></text>
<text transform="translate(201.5,128.7) rotate(-90)" font-size="6.6" fill="#222" textLength="10" lengthAdjust="spacingAndGlyphs">10<tspan dy="-4.2">1</tspan></text>
<text x="272.2" y="169.9" font-size="6.6" fill="#222" textLength="10" lengthAdjust="spacingAndGlyphs">10<tspan dy="-4.2">2</tspan></text>
<text transform="translate(201.5,93.8) rotate(-90)" font-size="6.6" fill="#222" textLength="10" lengthAdjust="spacingAndGlyphs">10<tspan dy="-4.2">2</tspan></text>
<text x="306.9" y="169.9" font-size="6.6" fill="#222" textLength="10" lengthAdjust="spacingAndGlyphs">10<tspan dy="-4.2">3</tspan></text>
<text transform="translate(201.5,58.8) rotate(-90)" font-size="6.6" fill="#222" textLength="10" lengthAdjust="spacingAndGlyphs">10<tspan dy="-4.2">3</tspan></text>
<text x="341.5" y="169.9" font-size="6.6" fill="#222" textLength="10" lengthAdjust="spacingAndGlyphs">10<tspan dy="-4.2">4</tspan></text>
<text transform="translate(201.5,23.8) rotate(-90)" font-size="6.6" fill="#222" textLength="10" lengthAdjust="spacingAndGlyphs">10<tspan dy="-4.2">4</tspan></text>
<text x="239.30" y="12.00" font-size="16.6" textLength="66.14" lengthAdjust="spacingAndGlyphs">p#2: +7y</text>
<path d="M288.2 45.6H322.5" stroke="#808080" stroke-width="1.3"/>
<path d="M305.3 28.3V62.8" stroke="#444" stroke-width="1.3"/>
<text x="276.82" y="41.60" font-size="14.6" font-weight="bold" textLength="21.96" lengthAdjust="spacingAndGlyphs">6.8</text>
<text x="309.15" y="41.60" font-size="14.6" font-weight="bold" textLength="20.83" lengthAdjust="spacingAndGlyphs">6.4</text>
<text x="309.45" y="62.30" font-size="14.6" font-weight="bold" textLength="20.91" lengthAdjust="spacingAndGlyphs">1.8</text>
<defs><path id="dp3" d="M440 56.5h1m-39 1h1m11 8h1m50 2h1m-30 1h1m-1 1h1m26 0h1m6 1h1m-36 1h1m-28 1h1m61 0h1m-24 1h1m-23 2h1m12 0h1m8 0h1m9 0h1m50 0h1m-58 1h1m-50 1h1m37 0h1m10 0h1m10 0h1m-32 1h1m2 0h1m25 0h1m-31 1h1m1 0h1m11 0h1m12 0h1m-32 1h1m9 0h1m12 0h1m4 0h1m2 0h2m9 0h1m-45 1h1m16 0h1m1 0h1m6 0h1m5 0h1m1 0h2m1 0h1m3 0h1m13 0h1m-44 1h2m9 0h1m9 0h2m-33 1h1m5 0h1m3 0h2m18 0h1m2 0h1m1 0h1m1 0h1m2 0h1m2 0h1m5 0h1m-63 1h1m3 0h1m5 0h1m13 0h1m2 0h1m9 0h1m7 0h1m1 0h1m3 0h1m-34 1h1m3 0h1m2 0h1m4 0h3m1 0h1m6 0h2m-38 1h1m10 0h1m7 0h1m1 0h1m1 0h1m4 0h1m2 0h1m5 0h1m4 0h1m-29 1h1m4 0h1m2 0h1m3 0h1m18 0h1m-47 1h1m10 0h1m3 0h1m9 0h2m6 0h1m3 0h4m4 0h3m3 0h1m-52 1h1m4 0h1m2 0h1m6 0h1m1 0h2m1 0h1m5 0h3m1 0h1m1 0h1m1 0h1m3 0h1m2 0h1m4 0h1m10 0h1m-79 1h1m15 0h1m3 0h1m11 0h1m4 0h1m2 0h1m4 0h1m1 0h1m5 0h2m1 0h1m4 0h3m1 0h2m-51 1h1m6 0h2m3 0h1m1 0h1m4 0h1m2 0h1m4 0h5m2 0h1m2 0h1m2 0h2m9 0h1m-38 1h2m3 0h2m4 0h1m1 0h1m2 0h1m3 0h2m3 0h1m1 0h1m1 0h1m1 0h1m1 0h1m3 0h3m-53 1h1m1 0h1m1 0h1m6 0h1m3 0h2m5 0h4m1 0h1m7 0h3m1 0h3m2 0h1m4 0h2m1 0h1m6 0h1m-65 1h1m11 0h1m12 0h1m4 0h1m4 0h1m2 0h1m2 0h2m7 0h1m8 0h1m10 0h1m-58 1h1m1 0h4m2 0h3m1 0h4m1 0h7m1 0h1m3 0h1m1 0h1m1 0h2m1 0h1m1 0h1m4 0h1m4 0h1m-87 1h1m17 0h1m1 0h2m4 0h1m9 0h1m2 0h1m5 0h1m1 0h4m2 0h1m1 0h3m1 0h1m1 0h3m1 0h1m3 0h2m9 0h1m-63 1h1m4 0h1m2 0h1m19 0h3m1 0h1m1 0h3m4 0h2m7 0h4m3 0h1m-67 1h2m15 0h1m4 0h2m3 0h1m2 0h2m10 0h3m1 0h1m3 0h2m1 0h1m1 0h2m3 0h1m1 0h1m3 0h1m-70 1h1m26 0h1m1 0h2m1 0h2m3 0h1m3 0h2m1 0h2m2 0h3m1 0h1m2 0h1m1 0h1m1 0h2m1 0h1m1 0h1m1 0h1m3 0h1m-79 1h1m18 0h1m1 0h1m4 0h1m3 0h1m14 0h2m3 0h1m1 0h1m4 0h1m1 0h1m2 0h1m1 0h1m1 0h1m1 0h1m1 0h1m2 0h1m3 0h1m-85 1h1m12 0h1m6 0h1m8 0h1m5 0h1m1 0h1m2 0h1m3 0h1m2 0h2m9 0h7m2 0h1m2 0h2m1 0h1m1 0h2m2 0h1m1 0h2m2 0h1m4 0h1m5 0h1m4 0h1m-101 1h1m11 0h1m3 0h1m3 0h1m5 0h1m4 0h1m12 0h3m1 0h1m2 0h2m1 0h2m4 0h3m1 0h1m2 0h4m2 0h1m4 0h1m1 0h1m-75 1h1m8 0h1m9 0h1m11 0h1m4 0h1m3 0h1m1 0h1m3 0h4m2 0h1m2 0h3m3 0h4m1 0h2m4 0h2m3 0h3m-86 1h1m14 0h1m7 0h1m1 0h1m1 0h1m1 0h1m17 0h2m9 0h1m2 0h2m1 0h1m2 0h1m2 0h3m3 0h1m1 0h2m4 0h2m1 0h1m1 0h1m-91 1h1m1 0h1m12 0h1m10 0h1m2 0h2m1 0h2m2 0h1m6 0h3m3 0h1m3 0h2m3 0h1m1 0h1m1 0h2m2 0h5m1 0h1m2 0h2m1 0h1m5 0h2m3 0h1m-87 1h1m2 0h1m1 0h2m2 0h1m13 0h3m1 0h2m2 0h1m5 0h2m1 0h1m9 0h3m1 0h2m1 0h2m7 0h2m4 0h1m10 0h1m2 0h1m8 0h1m-88 1h1m3 0h1m1 0h2m1 0h1m3 0h3m2 0h1m7 0h1m2 0h1m2 0h1m2 0h1m1 0h3m4 0h1m1 0h2m1 0h1m3 0h1m6 0h1m4 0h1m2 0h1m3 0h1m-72 1h1m2 0h2m1 0h1m1 0h1m2 0h1m1 0h1m1 0h1m13 0h1m2 0h1m6 0h1m2 0h8m3 0h11m2 0h1m3 0h1m5 0h1m7 0h1m-87 1h2m1 0h1m2 0h1m1 0h1m5 0h3m1 0h2m5 0h1m1 0h1m1 0h2m1 0h3m2 0h1m1 0h3m1 0h1m1 0h1m2 0h3m2 0h2m4 0h1m1 0h1m3 0h1m8 0h1m2 0h1m10 0h2m-101 1h1m1 0h1m4 0h2m5 0h2m1 0h2m3 0h1m3 0h3m1 0h1m1 0h3m2 0h1m2 0h1m4 0h2m1 0h1m5 0h1m1 0h1m7 0h1m2 0h2m2 0h2m1 0h1m2 0h4m-78 1h2m1 0h1m3 0h4m1 0h6m3 0h1m1 0h1m2 0h1m3 0h2m1 0h1m2 0h3m3 0h1m1 0h1m2 0h2m1 0h2m3 0h1m5 0h1m1 0h1m4 0h1m1 0h1m1 0h1m6 0h4m-82 1h1m3 0h1m1 0h1m1 0h3m7 0h1m1 0h1m2 0h1m1 0h3m2 0h2m2 0h2m2 0h2m4 0h3m1 0h1m3 0h1m3 0h1m1 0h3m1 0h2m1 0h3m1 0h2m1 0h2m1 0h2m10 0h1m-89 1h1m3 0h1m3 0h2m1 0h1m2 0h7m1 0h1m2 0h1m1 0h6m1 0h2m1 0h1m2 0h3m2 0h1m2 0h1m5 0h1m3 0h3m2 0h2m3 0h1m4 0h3m6 0h1m2 0h1m-86 1h1m3 0h4m5 0h6m1 0h6m3 0h1m1 0h1m2 0h2m1 0h3m1 0h1m1 0h4m2 0h2m6 0h3m1 0h5m2 0h1m2 0h3m9 0h1m9 0h1m28 0h1m-124 1h1m2 0h2m1 0h1m1 0h1m1 0h1m2 0h1m1 0h3m1 0h2m1 0h8m1 0h7m1 0h1m1 0h1m2 0h1m1 0h3m2 0h1m2 0h6m4 0h1m2 0h1m3 0h1m1 0h1m1 0h1m8 0h1m11 0h1m-98 1h3m1 0h1m1 0h3m1 0h2m1 0h1m1 0h7m2 0h2m1 0h3m1 0h3m4 0h2m3 0h1m3 0h2m1 0h2m1 0h1m1 0h1m2 0h1m2 0h9m1 0h2m4 0h1m1 0h1m7 0h1m5 0h1m-93 1h1m2 0h3m1 0h3m3 0h11m1 0h4m1 0h2m1 0h6m3 0h4m3 0h3m1 0h5m2 0h3m1 0h2m1 0h3m1 0h1m1 0h2m2 0h3m3 0h1m-85 1h4m2 0h4m3 0h2m2 0h5m1 0h6m1 0h1m1 0h4m2 0h1m3 0h1m2 0h5m5 0h1m3 0h1m4 0h1m3 0h2m5 0h1m3 0h1m3 0h1m11 0h1m-96 1h1m1 0h5m1 0h3m1 0h2m1 0h2m1 0h2m1 0h6m2 0h2m2 0h2m4 0h2m2 0h1m1 0h2m1 0h3m1 0h1m1 0h1m1 0h1m2 0h1m5 0h2m5 0h2m5 0h2m2 0h2m2 0h2m-87 1h3m1 0h1m1 0h5m1 0h2m1 0h3m1 0h3m1 0h1m1 0h1m1 0h3m1 0h4m1 0h5m1 0h5m1 0h4m3 0h1m1 0h1m2 0h1m1 0h2m2 0h1m1 0h2m1 0h1m1 0h2m1 0h1m-79 1h6m1 0h17m1 0h1m1 0h9m1 0h4m2 0h1m2 0h3m1 0h1m1 0h1m1 0h3m1 0h1m2 0h3m1 0h1m2 0h3m4 0h1m2 0h2m-76 1h12m1 0h2m1 0h10m2 0h2m1 0h2m2 0h4m2 0h2m1 0h1m4 0h2m1 0h3m1 0h1m2 0h3m3 0h2m4 0h3m3 0h1m3 0h1m-85 1h2m2 0h31m1 0h3m3 0h1m4 0h1m1 0h2m1 0h2m1 0h5m1 0h2m1 0h5m5 0h1m2 0h1m1 0h1m6 0h1m4 0h1m-93 1h3m1 0h11m1 0h1m1 0h5m1 0h8m1 0h4m2 0h1m1 0h2m3 0h1m1 0h1m1 0h3m2 0h4m1 0h2m1 0h1m1 0h3m4 0h3m2 0h1m9 0h1m2 0h3m-94 1h3m1 0h11m2 0h6m1 0h15m1 0h4m2 0h2m3 0h1m4 0h2m1 0h1m2 0h2m2 0h2m1 0h1m1 0h4m4 0h2m1 0h1m2 0h1m-83 1h4m2 0h18m1 0h4m1 0h3m1 0h2m2 0h3m6 0h1m1 0h3m1 0h2m1 0h1m2 0h1m1 0h1m1 0h4m2 0h1m3 0h1m1 0h1m3 0h2m2 0h2m-86 1h29m1 0h3m1 0h1m1 0h1m1 0h1m1 0h4m6 0h1m2 0h1m2 0h1m3 0h1m2 0h6m3 0h1m1 0h2m1 0h1m2 0h1m2 0h1m1 0h1m1 0h1m2 0h1m-93 1h5m2 0h23m1 0h3m1 0h5m1 0h2m2 0h3m1 0h1m2 0h1m1 0h2m1 0h5m3 0h1m1 0h2m2 0h2m1 0h1m3 0h2m2 0h1m10 0h1m-94 1h11m1 0h22m1 0h3m4 0h2m1 0h2m1 0h4m1 0h4m1 0h2m1 0h2m2 0h1m2 0h1m1 0h2m1 0h4m11 0h1m11 0h1m-101 1h4m1 0h27m2 0h10m4 0h1m2 0h2m3 0h1m1 0h5m2 0h1m2 0h3m2 0h2m1 0h1m2 0h1m2 0h1m1 0h1m2 0h1m-88 1h33m1 0h2m1 0h2m1 0h1m1 0h1m2 0h1m1 0h3m1 0h1m2 0h2m3 0h1m2 0h3m2 0h1m1 0h1m1 0h1m1 0h4m3 0h2m5 0h4m3 0h1m-94 1h3m2 0h25m1 0h2m1 0h1m1 0h3m1 0h1m1 0h1m1 0h1m2 0h2m1 0h2m3 0h2m1 0h7m2 0h1m1 0h2m2 0h2m4 0h2m7 0h1m2 0h1m6 0h1m-100 1h3m1 0h6m1 0h21m1 0h4m1 0h1m1 0h2m1 0h2m1 0h2m3 0h1m2 0h1m2 0h1m1 0h1m4 0h1m1 0h3m5 0h5m7 0h1m8 0h1m-96 1h1m1 0h3m1 0h27m1 0h8m5 0h3m5 0h1m2 0h3m1 0h2m2 0h1m1 0h1m3 0h1m2 0h1m1 0h3m1 0h2m1 0h2m-85 1h2m1 0h2m1 0h36m1 0h1m1 0h1m5 0h3m3 0h1m3 0h2m1 0h1m2 0h1m2 0h1m2 0h1m1 0h2m1 0h1m-79 1h36m1 0h3m1 0h2m2 0h1m1 0h1m3 0h1m1 0h4m3 0h1m2 0h1m1 0h2m1 0h2m5 0h1m3 0h1m-80 1h4m1 0h33m1 0h3m3 0h2m5 0h1m1 0h1m3 0h2m3 0h1m2 0h1m1 0h1m2 0h3m2 0h1m8 0h1m10 0h1m-95 1h6m1 0h1m1 0h27m2 0h1m1 0h2m1 0h1m1 0h1m9 0h1m5 0h2m2 0h1m3 0h2m3 0h1m2 0h1m1 0h2m3 0h1m3 0h1m3 0h1m-96 1h35m1 0h2m1 0h5m1 0h3m2 0h1m1 0h1m3 0h2m2 0h2m1 0h2m3 0h2m1 0h1m5 0h1m4 0h1m1 0h1m-84 1h24m1 0h11m1 0h2m4 0h1m3 0h1m2 0h1m5 0h2m2 0h1m4 0h2m1 0h1m1 0h1m1 0h1m2 0h1m6 0h1m2 0h1m-86 1h2m1 0h26m1 0h8m1 0h2m1 0h1m1 0h1m5 0h1m1 0h1m10 0h1m1 0h1m1 0h1m1 0h2m1 0h1m3 0h1m-78 1h16m1 0h18m1 0h1m1 0h4m2 0h4m10 0h1m4 0h1m5 0h3m7 0h1m-80 1h42m1 0h1m2 0h1m2 0h1m5 0h1m12 0h1m5 0h1m4 0h1m6 0h1m-86 1h32m1 0h3m3 0h4m1 0h1m4 0h1m12 0h1m3 0h1m5 0h2m4 0h1m1 0h1m7 0h1m-88 1h8m1 0h25m2 0h2m3 0h1m1 0h2m29 0h1m1 0h1m7 0h1m-87 1h1m1 0h3m1 0h25m1 0h5m1 0h1m1 0h1m1 0h1m4 0h1m4 0h1m4 0h1m7 0h1m2 0h1m-68 1h9m1 0h30m1 0h1m2 0h1m2 0h2m1 0h1m7 0h1m1 0h1m4 0h2m8 0h1m-77 1h7m1 0h2m1 0h2m1 0h10m1 0h10m2 0h1m1 0h2m6 0h2m8 0h1m9 0h1m6 0h1m9 0h1m2 0h1m-87 1h2m1 0h8m1 0h4m1 0h12m2 0h3m1 0h1m1 0h1m1 0h3m2 0h1m1 0h1m7 0h1m18 0h1m-72 1h2m1 0h1m1 0h3m1 0h12m1 0h2m1 0h4m1 0h3m3 0h2m12 0h1m24 0h1m-79 1h2m5 0h5m2 0h5m1 0h11m2 0h1m1 0h2m1 0h1m1 0h1m1 0h1m16 0h1m-58 1h1m1 0h3m1 0h6m1 0h8m1 0h4m1 0h3m1 0h3m1 0h1m1 0h1m2 0h1m1 0h1m22 0h1m-68 1h1m2 0h4m1 0h5m1 0h7m1 0h5m1 0h3m2 0h1m1 0h4m2 0h2m1 0h1m18 0h1m-64 1h1m4 0h2m2 0h2m1 0h2m2 0h7m3 0h3m2 0h1m1 0h2m3 0h1m1 0h2m22 0h1m-64 1h1m1 0h1m1 0h4m1 0h1m3 0h3m2 0h1m2 0h1m1 0h8m1 0h1m1 0h2m3 0h2m-41 1h1m7 0h6m2 0h6m1 0h1m3 0h4m3 0h1m-34 1h1m3 0h3m2 0h2m4 0h2m1 0h1m1 0h11m4 0h1m1 0h1m4 0h1m-44 1h1m11 0h2m4 0h1m1 0h2m1 0h1m2 0h1m2 0h1m2 0h1"/></defs>
<use href="#dp3" fill="none" stroke="#000" stroke-opacity="0.25" stroke-width="2.2"/>
<use href="#dp3" fill="none" stroke="#222" stroke-width="1.1"/>
<path d="M417.9 19.2V159.1M373.4 117.4H512.1" stroke="#333" stroke-width="1.2" fill="none"/>
<rect x="373.4" y="19.2" width="138.70" height="139.90" fill="none" stroke="#333" stroke-width="1.5"/>
<path d="M383.8 159.1v1.8M373.4 148.6h-1.8M389.9 159.1v1.8M373.4 142.4h-1.8M394.3 159.1v1.8M373.4 138.0h-1.8M397.6 159.1v1.8M373.4 134.7h-1.8M400.4 159.1v1.8M373.4 131.9h-1.8M402.7 159.1v1.8M373.4 129.5h-1.8M404.7 159.1v1.8M373.4 127.5h-1.8M406.5 159.1v1.8M373.4 125.7h-1.8M408.1 159.1v3M373.4 124.1h-3M418.5 159.1v1.8M373.4 113.6h-1.8M424.6 159.1v1.8M373.4 107.4h-1.8M429.0 159.1v1.8M373.4 103.1h-1.8M432.3 159.1v1.8M373.4 99.7h-1.8M435.1 159.1v1.8M373.4 96.9h-1.8M437.4 159.1v1.8M373.4 94.6h-1.8M439.4 159.1v1.8M373.4 92.5h-1.8M441.2 159.1v1.8M373.4 90.8h-1.8M442.8 159.1v3M373.4 89.1h-3M453.2 159.1v1.8M373.4 78.6h-1.8M459.3 159.1v1.8M373.4 72.5h-1.8M463.6 159.1v1.8M373.4 68.1h-1.8M467.0 159.1v1.8M373.4 64.7h-1.8M469.7 159.1v1.8M373.4 61.9h-1.8M472.1 159.1v1.8M373.4 59.6h-1.8M474.1 159.1v1.8M373.4 57.6h-1.8M475.8 159.1v1.8M373.4 55.8h-1.8M477.4 159.1v3M373.4 54.2h-3M487.9 159.1v1.8M373.4 43.6h-1.8M494.0 159.1v1.8M373.4 37.5h-1.8M498.3 159.1v1.8M373.4 33.1h-1.8M501.7 159.1v1.8M373.4 29.7h-1.8M504.4 159.1v1.8M373.4 27.0h-1.8M506.7 159.1v1.8M373.4 24.6h-1.8M508.7 159.1v1.8M373.4 22.6h-1.8M510.5 159.1v1.8M373.4 20.8h-1.8M512.1 159.1v3M373.4 19.2h-3M373.4 159.1h-3M373.4 159.1v3" stroke="#333" stroke-width="1" fill="none"/>
<text x="369.7" y="170.5" font-size="6.6" fill="#222" textLength="10" lengthAdjust="spacingAndGlyphs">10<tspan dy="-4.2">0</tspan></text>
<text transform="translate(368.2,164.3) rotate(-90)" font-size="6.6" fill="#222" textLength="10" lengthAdjust="spacingAndGlyphs">10<tspan dy="-4.2">0</tspan></text>
<text x="404.4" y="170.5" font-size="6.6" fill="#222" textLength="10" lengthAdjust="spacingAndGlyphs">10<tspan dy="-4.2">1</tspan></text>
<text transform="translate(368.2,129.3) rotate(-90)" font-size="6.6" fill="#222" textLength="10" lengthAdjust="spacingAndGlyphs">10<tspan dy="-4.2">1</tspan></text>
<text x="439.1" y="170.5" font-size="6.6" fill="#222" textLength="10" lengthAdjust="spacingAndGlyphs">10<tspan dy="-4.2">2</tspan></text>
<text transform="translate(368.2,94.3) rotate(-90)" font-size="6.6" fill="#222" textLength="10" lengthAdjust="spacingAndGlyphs">10<tspan dy="-4.2">2</tspan></text>
<text x="473.7" y="170.5" font-size="6.6" fill="#222" textLength="10" lengthAdjust="spacingAndGlyphs">10<tspan dy="-4.2">3</tspan></text>
<text transform="translate(368.2,59.4) rotate(-90)" font-size="6.6" fill="#222" textLength="10" lengthAdjust="spacingAndGlyphs">10<tspan dy="-4.2">3</tspan></text>
<text x="508.4" y="170.5" font-size="6.6" fill="#222" textLength="10" lengthAdjust="spacingAndGlyphs">10<tspan dy="-4.2">4</tspan></text>
<text transform="translate(368.2,24.4) rotate(-90)" font-size="6.6" fill="#222" textLength="10" lengthAdjust="spacingAndGlyphs">10<tspan dy="-4.2">4</tspan></text>
<text x="406.40" y="12.30" font-size="16.6" textLength="66.24" lengthAdjust="spacingAndGlyphs">p#4: +5y</text>
<path d="M456.2 45.8H490.9" stroke="#808080" stroke-width="1.3"/>
<path d="M472.7 28.3V63" stroke="#444" stroke-width="1.3"/>
<text x="445.87" y="41.40" font-size="14.6" font-weight="bold" textLength="21.35" lengthAdjust="spacingAndGlyphs">4.2</text>
<text x="477.02" y="41.40" font-size="14.6" font-weight="bold" textLength="22.05" lengthAdjust="spacingAndGlyphs">7.3</text>
<text x="477.33" y="62.30" font-size="14.6" font-weight="bold" textLength="21.74" lengthAdjust="spacingAndGlyphs">7.6</text>
<defs><path id="dp4" d="M114 237.5h1m-23 1h1m-8 2h1m38 0h1m1 0h1m-21 2h1m5 0h1m3 0h1m6 0h1m-8 2h1m5 0h1m12 0h1m2 1h1m-81 1h1m63 0h1m6 0h1m-27 1h1m13 0h1m3 0h1m2 0h1m13 0h1m-32 1h1m5 0h1m16 0h1m-27 1h1m3 0h1m3 0h1m4 0h1m1 0h1m6 0h1m7 0h1m-43 1h1m6 0h1m4 0h1m9 0h1m-21 1h1m12 0h1m3 0h1m7 0h2m1 0h1m4 0h1m2 0h1m3 0h1m-42 1h1m15 0h1m8 0h1m2 0h1m9 0h1m-63 1h1m33 0h1m1 0h1m8 0h1m2 0h2m1 0h2m10 0h2m-35 1h1m13 0h1m4 0h1m1 0h1m1 0h1m1 0h1m3 0h1m7 0h1m-36 1h1m9 0h1m1 0h1m2 0h1m3 0h1m1 0h1m2 0h1m2 0h1m15 0h1m-41 1h1m5 0h2m5 0h2m2 0h2m1 0h1m1 0h1m-28 1h1m2 0h1m3 0h3m4 0h4m1 0h1m5 0h1m1 0h1m-33 1h1m11 0h1m2 0h3m5 0h1m2 0h1m4 0h4m1 0h1m4 0h1m-45 1h1m4 0h1m10 0h1m1 0h2m1 0h5m1 0h1m6 0h1m3 0h1m1 0h1m3 0h1m-91 1h1m51 0h1m5 0h2m2 0h2m2 0h1m2 0h7m2 0h1m1 0h1m3 0h1m6 0h1m-89 1h1m23 0h1m16 0h1m10 0h1m5 0h2m5 0h1m1 0h1m3 0h1m2 0h1m1 0h1m1 0h1m-32 1h1m7 0h2m1 0h1m4 0h1m2 0h5m6 0h1m-61 1h1m27 0h3m5 0h1m4 0h6m4 0h1m5 0h1m2 0h1m7 0h1m-58 1h1m7 0h1m1 0h1m9 0h1m3 0h1m5 0h1m3 0h1m3 0h1m1 0h5m2 0h1m1 0h1m1 0h3m4 0h1m3 0h1m-64 1h1m12 0h1m8 0h1m6 0h1m1 0h1m2 0h1m1 0h3m1 0h1m1 0h1m1 0h1m1 0h1m10 0h1m1 0h1m5 0h1m-51 1h1m3 0h1m3 0h2m1 0h1m3 0h1m2 0h2m1 0h4m2 0h1m6 0h1m4 0h1m1 0h1m1 0h1m8 0h1m-79 1h1m5 0h1m2 0h1m2 0h1m14 0h1m4 0h2m3 0h1m1 0h2m1 0h1m2 0h4m2 0h2m1 0h1m1 0h4m8 0h1m-60 1h1m7 0h2m15 0h1m7 0h4m1 0h3m1 0h1m18 0h1m-66 1h1m5 0h1m11 0h1m2 0h1m1 0h2m4 0h2m4 0h2m1 0h1m1 0h1m4 0h2m2 0h2m-55 1h1m2 0h1m1 0h1m3 0h1m7 0h1m3 0h2m3 0h1m1 0h2m1 0h2m1 0h1m1 0h2m1 0h1m1 0h2m3 0h2m2 0h1m1 0h2m2 0h2m1 0h4m-65 1h2m9 0h2m1 0h2m2 0h2m12 0h1m1 0h1m1 0h3m3 0h3m3 0h1m1 0h1m3 0h1m1 0h1m1 0h2m8 0h1m-65 1h1m2 0h1m5 0h1m6 0h1m1 0h2m2 0h3m1 0h1m1 0h1m1 0h1m2 0h2m1 0h2m3 0h1m1 0h1m1 0h4m2 0h1m6 0h1m1 0h1m1 0h1m11 0h1m-76 1h1m1 0h3m1 0h1m1 0h1m1 0h1m1 0h1m7 0h5m1 0h1m1 0h1m2 0h1m1 0h1m2 0h6m2 0h1m1 0h4m1 0h1m2 0h2m2 0h2m-63 1h1m4 0h4m1 0h1m3 0h5m1 0h1m3 0h1m6 0h3m1 0h3m2 0h2m1 0h1m1 0h3m3 0h1m1 0h4m10 0h1m8 0h1m-75 1h1m2 0h1m2 0h3m2 0h1m1 0h2m1 0h2m2 0h2m1 0h1m5 0h3m1 0h1m1 0h1m5 0h3m1 0h2m3 0h1m3 0h1m-54 1h2m1 0h2m1 0h1m2 0h1m6 0h2m1 0h2m8 0h2m1 0h1m3 0h3m2 0h5m1 0h1m1 0h1m3 0h2m3 0h1m22 0h1m-84 1h1m1 0h1m1 0h2m2 0h2m1 0h1m1 0h2m2 0h2m1 0h1m1 0h1m1 0h1m2 0h1m1 0h5m3 0h1m1 0h1m4 0h1m3 0h2m10 0h1m-75 1h1m8 0h2m1 0h1m1 0h5m1 0h1m1 0h8m1 0h1m1 0h2m1 0h1m5 0h1m5 0h1m1 0h1m2 0h1m5 0h1m2 0h2m6 0h1m6 0h1m-77 1h1m5 0h1m8 0h1m2 0h1m1 0h8m1 0h2m2 0h1m15 0h1m2 0h1m10 0h1m2 0h1m-77 1h1m11 0h1m4 0h1m10 0h1m1 0h10m1 0h1m1 0h1m2 0h3m3 0h1m1 0h1m1 0h1m1 0h1m1 0h1m3 0h2m2 0h1m1 0h2m1 0h2m2 0h3m-79 1h1m3 0h1m6 0h1m5 0h1m2 0h3m4 0h1m3 0h1m1 0h5m2 0h1m4 0h1m1 0h1m1 0h3m2 0h1m2 0h2m1 0h2m6 0h2m-59 1h1m7 0h2m1 0h2m2 0h1m3 0h12m4 0h2m1 0h1m2 0h1m2 0h1m3 0h6m1 0h4m3 0h1m1 0h1m6 0h3m-84 1h1m9 0h1m6 0h2m3 0h1m3 0h13m1 0h1m7 0h1m5 0h2m6 0h1m1 0h4m2 0h1m6 0h1m-77 1h1m7 0h1m1 0h2m3 0h1m4 0h2m1 0h2m1 0h2m1 0h4m1 0h5m3 0h5m2 0h1m1 0h1m2 0h1m6 0h1m1 0h1m1 0h1m2 0h1m3 0h1m-77 1h1m2 0h1m8 0h1m1 0h1m1 0h1m1 0h1m2 0h1m1 0h3m1 0h8m1 0h3m2 0h2m1 0h2m5 0h1m2 0h1m1 0h2m1 0h1m2 0h1m3 0h1m6 0h1m-67 1h1m3 0h1m1 0h1m1 0h1m4 0h2m1 0h12m1 0h2m1 0h4m1 0h1m2 0h1m4 0h1m1 0h2m3 0h2m1 0h1m1 0h1m7 0h1m51 0h1m-122 1h1m2 0h1m2 0h1m3 0h1m1 0h2m2 0h1m3 0h1m4 0h3m1 0h5m2 0h6m2 0h3m2 0h1m3 0h2m2 0h2m3 0h1m1 0h1m4 0h1m4 0h1m11 0h1m-90 1h1m3 0h1m3 0h2m8 0h2m1 0h3m1 0h2m2 0h22m1 0h2m3 0h1m4 0h1m5 0h4m3 0h1m11 0h1m-84 1h1m4 0h1m2 0h1m1 0h3m5 0h1m1 0h4m1 0h5m1 0h1m1 0h5m1 0h5m2 0h1m16 0h1m6 0h1m4 0h1m-77 1h1m1 0h2m4 0h1m2 0h1m1 0h2m3 0h2m2 0h2m1 0h11m1 0h6m1 0h3m1 0h1m3 0h3m17 0h1m24 0h1m12 0h1m-107 1h1m2 0h1m4 0h1m3 0h1m3 0h2m1 0h18m1 0h1m26 0h1m5 0h1m-79 1h1m1 0h1m2 0h1m1 0h3m2 0h1m2 0h1m4 0h1m2 0h2m1 0h1m1 0h18m1 0h3m4 0h1m9 0h2m-59 1h1m5 0h2m2 0h2m3 0h5m1 0h4m1 0h7m1 0h3m1 0h1m1 0h4m6 0h1m11 0h1m3 0h3m-76 1h2m1 0h1m2 0h2m2 0h1m2 0h1m1 0h2m1 0h1m1 0h24m1 0h2m1 0h1m4 0h2m2 0h2m17 0h1m1 0h1m-79 1h2m1 0h1m5 0h1m1 0h1m1 0h1m1 0h1m1 0h1m1 0h24m1 0h6m7 0h2m11 0h1m3 0h1m1 0h1m-73 1h2m6 0h4m1 0h2m1 0h1m1 0h25m3 0h3m2 0h3m10 0h1m1 0h1m2 0h1m-71 1h1m4 0h1m1 0h4m1 0h2m2 0h4m1 0h5m1 0h15m2 0h1m2 0h1m1 0h2m3 0h1m2 0h1m26 0h1m-89 1h1m1 0h1m2 0h2m3 0h2m1 0h1m1 0h5m1 0h3m2 0h1m1 0h20m4 0h1m8 0h1m1 0h1m3 0h1m4 0h2m-69 1h3m5 0h2m1 0h2m2 0h1m1 0h3m1 0h19m1 0h3m1 0h2m1 0h1m1 0h1m1 0h1m7 0h1m1 0h1m2 0h1m1 0h1m2 0h1m1 0h2m1 0h1m-79 1h1m2 0h1m3 0h12m1 0h4m1 0h5m1 0h18m2 0h1m1 0h1m1 0h2m1 0h1m5 0h1m5 0h2m1 0h1m5 0h1m-78 1h5m1 0h1m1 0h5m1 0h2m2 0h1m1 0h1m1 0h20m1 0h1m1 0h1m1 0h2m1 0h2m2 0h1m1 0h2m2 0h2m2 0h1m1 0h1m1 0h1m1 0h1m11 0h1m-87 1h1m2 0h1m1 0h1m1 0h1m1 0h2m1 0h1m1 0h1m1 0h3m2 0h2m1 0h24m2 0h1m2 0h1m1 0h1m3 0h1m1 0h1m5 0h1m1 0h1m1 0h1m2 0h1m2 0h1m10 0h1m3 0h1m-91 1h1m3 0h2m1 0h11m1 0h28m1 0h2m7 0h1m1 0h1m5 0h1m1 0h1m3 0h1m16 0h1m-89 1h1m4 0h5m1 0h4m1 0h2m1 0h30m5 0h1m2 0h2m4 0h2m6 0h1m8 0h1m-82 1h1m1 0h3m2 0h7m1 0h3m1 0h4m1 0h22m2 0h4m1 0h1m31 0h1m-87 1h2m1 0h2m2 0h1m1 0h1m2 0h2m1 0h7m1 0h25m1 0h1m1 0h1m3 0h1m3 0h1m6 0h3m3 0h1m1 0h1m5 0h1m-81 1h2m4 0h2m1 0h5m1 0h1m1 0h20m1 0h7m1 0h3m1 0h1m1 0h1m2 0h3m4 0h1m6 0h1m1 0h2m10 0h1m4 0h1m42 0h1m-132 1h1m1 0h2m1 0h7m1 0h3m1 0h3m2 0h4m1 0h21m1 0h1m2 0h1m7 0h3m1 0h2m1 0h2m2 0h1m7 0h1m4 0h1m-85 1h1m1 0h1m5 0h1m2 0h2m2 0h3m1 0h2m1 0h4m1 0h18m1 0h2m1 0h1m2 0h1m4 0h1m1 0h4m5 0h1m4 0h1m1 0h1m-76 1h1m3 0h2m3 0h1m1 0h1m1 0h1m1 0h2m1 0h1m1 0h27m8 0h1m1 0h2m8 0h1m5 0h1m-72 1h1m3 0h1m2 0h1m1 0h2m1 0h1m1 0h1m2 0h6m1 0h20m2 0h1m1 0h3m1 0h1m2 0h1m4 0h1m2 0h2m-66 1h2m3 0h2m2 0h3m2 0h8m1 0h13m1 0h1m1 0h2m1 0h6m8 0h1m2 0h2m1 0h1m1 0h1m3 0h1m1 0h1m13 0h1m-85 1h2m3 0h1m1 0h1m2 0h5m1 0h5m1 0h2m1 0h23m6 0h1m2 0h2m3 0h1m2 0h2m1 0h1m2 0h1m8 0h1m-80 1h2m1 0h3m1 0h1m1 0h3m1 0h3m3 0h2m1 0h20m1 0h4m1 0h1m3 0h1m1 0h2m3 0h1m3 0h1m3 0h2m6 0h1m4 0h1m-82 1h2m4 0h3m1 0h4m4 0h4m1 0h1m1 0h1m1 0h19m3 0h1m3 0h1m3 0h1m4 0h4m1 0h1m-69 1h2m4 0h2m4 0h1m1 0h3m1 0h4m2 0h6m1 0h17m1 0h1m5 0h1m4 0h1m-60 1h2m2 0h1m1 0h3m1 0h1m2 0h1m1 0h1m1 0h1m1 0h26m4 0h1m1 0h1m6 0h1m4 0h1m16 0h1m-82 1h1m1 0h2m2 0h1m2 0h2m1 0h1m2 0h3m1 0h23m1 0h5m11 0h1m1 0h1m2 0h2m-63 1h2m1 0h3m3 0h2m1 0h1m2 0h1m1 0h7m1 0h2m1 0h15m1 0h1m5 0h1m12 0h1m15 0h1m-81 1h3m3 0h1m1 0h1m1 0h2m2 0h1m1 0h1m2 0h1m3 0h1m1 0h3m1 0h10m1 0h2m1 0h2m2 0h1m7 0h1m3 0h1m9 0h1m-69 1h1m2 0h1m1 0h4m3 0h2m6 0h1m2 0h11m2 0h9m2 0h1m12 0h1m3 0h1m3 0h1m3 0h1m-75 1h1m3 0h1m1 0h1m1 0h1m1 0h3m1 0h1m1 0h2m1 0h7m1 0h2m1 0h1m1 0h9m1 0h7m19 0h1m-62 1h1m3 0h1m1 0h1m2 0h1m3 0h1m1 0h1m1 0h18m1 0h1m4 0h1m-44 1h1m4 0h3m1 0h1m2 0h1m2 0h1m4 0h3m2 0h2m1 0h9m1 0h5m7 0h1m15 0h1m-68 1h1m1 0h3m1 0h1m1 0h1m2 0h1m1 0h1m2 0h3m1 0h11m1 0h7m5 0h1m-42 1h1m1 0h1m2 0h1m1 0h2m3 0h1m1 0h1m1 0h5m1 0h1m2 0h4m2 0h3m1 0h6m8 0h1m5 0h1m3 0h1m-65 1h1m8 0h2m1 0h1m3 0h1m1 0h1m1 0h2m2 0h2m3 0h4m1 0h5m1 0h4m2 0h1m-40 1h1m2 0h1m3 0h3m2 0h1m2 0h2m5 0h1m1 0h8m1 0h1m6 0h1m1 0h1m-52 1h1m3 0h2m1 0h1m6 0h1m2 0h1m2 0h1m3 0h3m1 0h4m1 0h7m5 0h1m15 0h1m-61 1h1m2 0h1m10 0h1m1 0h3m2 0h1m3 0h1m1 0h4m1 0h3m1 0h2m2 0h1m2 0h1m1 0h2m-36 1h1m7 0h2m4 0h1m2 0h1m2 0h1m1 0h4m1 0h2m2 0h1m1 0h2m2 0h1"/></defs>
<use href="#dp4" fill="none" stroke="#000" stroke-opacity="0.25" stroke-width="2.2"/>
<use href="#dp4" fill="none" stroke="#222" stroke-width="1.1"/>
<path d="M88.4 192.1V332.2M39.2 289H178.0" stroke="#333" stroke-width="1.2" fill="none"/>
<rect x="39.2" y="192.1" width="138.80" height="140.10" fill="none" stroke="#333" stroke-width="1.5"/>
<path d="M49.6 332.2v1.8M39.2 321.7h-1.8M55.8 332.2v1.8M39.2 315.5h-1.8M60.1 332.2v1.8M39.2 311.1h-1.8M63.5 332.2v1.8M39.2 307.7h-1.8M66.2 332.2v1.8M39.2 304.9h-1.8M68.5 332.2v1.8M39.2 302.6h-1.8M70.5 332.2v1.8M39.2 300.6h-1.8M72.3 332.2v1.8M39.2 298.8h-1.8M73.9 332.2v3M39.2 297.2h-3M84.3 332.2v1.8M39.2 286.6h-1.8M90.5 332.2v1.8M39.2 280.5h-1.8M94.8 332.2v1.8M39.2 276.1h-1.8M98.2 332.2v1.8M39.2 272.7h-1.8M100.9 332.2v1.8M39.2 269.9h-1.8M103.2 332.2v1.8M39.2 267.6h-1.8M105.2 332.2v1.8M39.2 265.5h-1.8M107.0 332.2v1.8M39.2 263.8h-1.8M108.6 332.2v3M39.2 262.1h-3M119.0 332.2v1.8M39.2 251.6h-1.8M125.2 332.2v1.8M39.2 245.4h-1.8M129.5 332.2v1.8M39.2 241.1h-1.8M132.9 332.2v1.8M39.2 237.7h-1.8M135.6 332.2v1.8M39.2 234.9h-1.8M137.9 332.2v1.8M39.2 232.6h-1.8M139.9 332.2v1.8M39.2 230.5h-1.8M141.7 332.2v1.8M39.2 228.7h-1.8M143.3 332.2v3M39.2 227.1h-3M153.7 332.2v1.8M39.2 216.6h-1.8M159.9 332.2v1.8M39.2 210.4h-1.8M164.2 332.2v1.8M39.2 206.0h-1.8M167.6 332.2v1.8M39.2 202.6h-1.8M170.3 332.2v1.8M39.2 199.9h-1.8M172.6 332.2v1.8M39.2 197.5h-1.8M174.6 332.2v1.8M39.2 195.5h-1.8M176.4 332.2v1.8M39.2 193.7h-1.8M178.0 332.2v3M39.2 192.1h-3M39.2 332.2h-3M39.2 332.2v3" stroke="#333" stroke-width="1" fill="none"/>
<text x="35.5" y="343.6" font-size="6.6" fill="#222" textLength="10" lengthAdjust="spacingAndGlyphs">10<tspan dy="-4.2">0</tspan></text>
<text transform="translate(34.0,337.4) rotate(-90)" font-size="6.6" fill="#222" textLength="10" lengthAdjust="spacingAndGlyphs">10<tspan dy="-4.2">0</tspan></text>
<text x="70.2" y="343.6" font-size="6.6" fill="#222" textLength="10" lengthAdjust="spacingAndGlyphs">10<tspan dy="-4.2">1</tspan></text>
<text transform="translate(34.0,302.4) rotate(-90)" font-size="6.6" fill="#222" textLength="10" lengthAdjust="spacingAndGlyphs">10<tspan dy="-4.2">1</tspan></text>
<text x="104.9" y="343.6" font-size="6.6" fill="#222" textLength="10" lengthAdjust="spacingAndGlyphs">10<tspan dy="-4.2">2</tspan></text>
<text transform="translate(34.0,267.3) rotate(-90)" font-size="6.6" fill="#222" textLength="10" lengthAdjust="spacingAndGlyphs">10<tspan dy="-4.2">2</tspan></text>
<text x="139.6" y="343.6" font-size="6.6" fill="#222" textLength="10" lengthAdjust="spacingAndGlyphs">10<tspan dy="-4.2">3</tspan></text>
<text transform="translate(34.0,232.3) rotate(-90)" font-size="6.6" fill="#222" textLength="10" lengthAdjust="spacingAndGlyphs">10<tspan dy="-4.2">3</tspan></text>
<text x="174.3" y="343.6" font-size="6.6" fill="#222" textLength="10" lengthAdjust="spacingAndGlyphs">10<tspan dy="-4.2">4</tspan></text>
<text transform="translate(34.0,197.3) rotate(-90)" font-size="6.6" fill="#222" textLength="10" lengthAdjust="spacingAndGlyphs">10<tspan dy="-4.2">4</tspan></text>
<text x="70.69" y="186.20" font-size="16.6" textLength="66.44" lengthAdjust="spacingAndGlyphs">p#6: +2y</text>
<path d="M120.1 219H154.8" stroke="#808080" stroke-width="1.3"/>
<path d="M137.7 201V236" stroke="#444" stroke-width="1.3"/>
<text x="110.58" y="213.60" font-size="14.6" font-weight="bold" textLength="19.71" lengthAdjust="spacingAndGlyphs">6.1</text>
<text x="142.29" y="213.60" font-size="14.6" font-weight="bold" textLength="18.58" lengthAdjust="spacingAndGlyphs">5.1</text>
<text x="142.36" y="235.90" font-size="14.6" font-weight="bold" textLength="20.43" lengthAdjust="spacingAndGlyphs">3.2</text>
<defs><path id="dp5" d="M328 220.5h1m-49 2h1m37 0h1m-51 2h2m13 1h1m7 0h2m1 0h1m-19 1h1m3 0h2m-18 1h1m14 0h1m33 0h1m-39 1h3m6 0h1m2 0h1m8 0h1m-32 1h1m8 0h1m5 0h1m5 0h2m-27 1h1m11 0h1m-19 1h1m10 0h1m1 0h1m4 0h1m1 0h1m7 0h2m2 0h1m-19 1h1m5 0h3m3 0h1m3 0h3m3 0h1m-24 1h1m4 0h1m2 0h1m5 0h1m6 0h1m2 0h1m2 0h1m-13 1h2m2 0h1m3 0h2m4 0h1m-41 1h1m9 0h1m3 0h1m1 0h1m1 0h2m2 0h1m1 0h3m1 0h1m7 0h1m-31 1h1m3 0h1m6 0h1m1 0h1m3 0h1m1 0h3m1 0h1m1 0h1m5 0h1m-81 1h1m21 0h1m30 0h1m4 0h1m5 0h1m2 0h1m5 0h1m-47 1h1m10 0h1m9 0h2m1 0h1m2 0h2m1 0h1m1 0h2m1 0h1m1 0h1m1 0h1m10 0h1m7 0h1m-24 1h4m1 0h1m2 0h2m2 0h1m1 0h1m2 0h1m1 0h1m3 0h1m-55 1h1m11 0h1m8 0h1m2 0h5m3 0h1m2 0h3m3 0h1m1 0h1m1 0h1m3 0h1m-74 1h1m39 0h1m3 0h3m1 0h2m2 0h2m1 0h2m1 0h6m12 0h1m-41 1h1m3 0h1m4 0h1m2 0h2m3 0h2m1 0h6m2 0h1m2 0h1m1 0h1m3 0h2m-75 1h1m10 0h1m1 0h1m25 0h1m5 0h1m2 0h2m1 0h1m1 0h1m3 0h1m2 0h3m-66 1h1m9 0h1m4 0h1m12 0h1m18 0h2m1 0h1m2 0h2m1 0h3m3 0h1m1 0h2m2 0h1m-69 1h1m3 0h1m24 0h1m5 0h1m4 0h1m1 0h5m4 0h1m2 0h1m1 0h4m2 0h5m1 0h1m-59 1h2m9 0h1m12 0h1m3 0h1m3 0h1m1 0h3m1 0h1m1 0h2m1 0h1m1 0h1m3 0h2m4 0h1m2 0h1m-54 1h1m25 0h2m1 0h2m1 0h1m2 0h1m1 0h2m1 0h6m1 0h3m4 0h2m1 0h1m-71 1h1m8 0h2m5 0h1m1 0h1m18 0h1m1 0h1m1 0h1m1 0h3m1 0h1m1 0h1m1 0h1m1 0h4m7 0h1m1 0h1m7 0h1m9 0h1m-80 1h2m2 0h1m2 0h1m2 0h1m1 0h2m7 0h1m14 0h4m1 0h1m2 0h3m2 0h1m1 0h3m1 0h1m1 0h2m1 0h1m4 0h1m-69 1h1m4 0h1m4 0h1m8 0h1m7 0h2m3 0h1m4 0h4m2 0h2m1 0h4m2 0h2m1 0h3m1 0h1m3 0h1m-62 1h1m1 0h1m10 0h1m3 0h1m13 0h2m2 0h3m1 0h2m1 0h1m2 0h2m4 0h2m1 0h1m10 0h1m2 0h1m-72 1h1m4 0h5m4 0h1m2 0h1m2 0h1m3 0h1m9 0h1m2 0h1m1 0h1m2 0h1m3 0h1m1 0h3m1 0h1m1 0h1m1 0h2m5 0h1m2 0h1m6 0h1m-84 1h1m3 0h1m1 0h1m7 0h3m4 0h2m1 0h3m16 0h1m1 0h1m3 0h1m2 0h3m2 0h1m2 0h1m2 0h1m3 0h1m1 0h2m6 0h1m7 0h1m2 0h1m13 0h1m-100 1h1m3 0h1m6 0h1m2 0h4m1 0h2m2 0h1m1 0h4m1 0h1m2 0h2m3 0h1m5 0h2m4 0h3m1 0h4m1 0h2m1 0h1m1 0h1m2 0h1m2 0h1m5 0h1m3 0h1m-75 1h1m8 0h3m3 0h4m3 0h1m1 0h1m2 0h1m9 0h1m2 0h1m2 0h3m3 0h4m1 0h2m1 0h4m1 0h1m-63 1h1m5 0h1m2 0h1m1 0h2m1 0h1m1 0h1m2 0h3m5 0h1m1 0h2m9 0h1m1 0h2m1 0h1m1 0h1m1 0h1m1 0h1m1 0h1m4 0h1m3 0h1m2 0h1m1 0h1m-79 1h1m9 0h1m1 0h2m1 0h2m3 0h1m4 0h1m6 0h1m1 0h1m1 0h2m2 0h1m1 0h2m3 0h1m7 0h1m2 0h3m2 0h1m4 0h2m-67 1h1m1 0h2m1 0h1m3 0h1m3 0h2m1 0h5m3 0h1m1 0h2m2 0h1m6 0h3m2 0h1m5 0h5m1 0h1m1 0h3m1 0h4m4 0h1m-75 1h1m8 0h2m1 0h1m3 0h2m1 0h1m1 0h1m1 0h2m1 0h7m2 0h1m3 0h3m1 0h1m7 0h1m2 0h5m4 0h4m1 0h1m1 0h3m3 0h1m-67 1h1m1 0h1m2 0h1m1 0h1m3 0h3m2 0h3m1 0h4m1 0h1m1 0h3m2 0h1m2 0h1m5 0h2m5 0h1m1 0h1m4 0h1m3 0h1m1 0h1m2 0h2m4 0h1m1 0h1m9 0h1m-92 1h1m12 0h2m1 0h2m2 0h2m3 0h1m2 0h2m1 0h2m1 0h1m2 0h2m4 0h1m2 0h1m1 0h3m2 0h2m1 0h1m2 0h1m1 0h1m14 0h1m9 0h1m6 0h1m22 0h1m-108 1h1m2 0h1m3 0h1m3 0h3m1 0h2m2 0h1m1 0h1m1 0h1m2 0h2m2 0h1m1 0h2m2 0h2m2 0h1m1 0h1m1 0h1m5 0h2m1 0h1m1 0h1m1 0h1m4 0h3m-68 1h1m1 0h1m3 0h2m2 0h1m4 0h1m1 0h2m1 0h1m1 0h1m1 0h2m1 0h2m2 0h1m1 0h3m2 0h1m5 0h1m2 0h1m5 0h1m1 0h2m2 0h1m3 0h3m3 0h1m3 0h1m2 0h1m-74 1h1m3 0h1m6 0h2m1 0h7m1 0h4m1 0h2m7 0h1m3 0h4m1 0h1m3 0h1m2 0h1m-57 1h1m2 0h2m4 0h5m4 0h9m1 0h2m1 0h5m5 0h2m4 0h2m1 0h1m1 0h3m3 0h2m2 0h1m2 0h1m-67 1h1m3 0h1m6 0h1m1 0h1m1 0h1m1 0h2m2 0h9m3 0h2m4 0h3m4 0h2m5 0h1m3 0h1m1 0h1m2 0h1m4 0h1m-65 1h1m3 0h1m1 0h3m3 0h6m1 0h9m3 0h3m1 0h1m2 0h3m3 0h3m2 0h1m1 0h1m4 0h1m1 0h2m-60 1h1m2 0h1m3 0h2m3 0h2m1 0h2m1 0h7m1 0h3m1 0h5m1 0h1m1 0h2m1 0h1m2 0h1m5 0h3m1 0h1m-54 1h1m1 0h1m1 0h1m4 0h2m3 0h1m1 0h2m2 0h5m2 0h4m1 0h2m2 0h1m5 0h1m1 0h1m5 0h1m1 0h1m4 0h1m9 0h1m-70 1h1m3 0h3m1 0h2m1 0h2m2 0h3m5 0h1m1 0h10m1 0h2m1 0h1m5 0h3m1 0h1m1 0h2m2 0h2m8 0h1m5 0h1m-70 1h2m2 0h5m1 0h1m1 0h2m1 0h3m1 0h6m1 0h1m1 0h3m1 0h1m4 0h1m2 0h2m3 0h1m1 0h1m2 0h1m9 0h1m1 0h1m3 0h1m-76 1h1m1 0h1m2 0h1m2 0h1m3 0h8m1 0h1m2 0h14m1 0h3m3 0h2m1 0h2m2 0h1m3 0h1m5 0h1m2 0h1m1 0h1m11 0h1m-79 1h2m2 0h1m4 0h1m3 0h3m1 0h8m1 0h7m1 0h3m1 0h1m1 0h1m1 0h1m7 0h1m3 0h1m1 0h1m1 0h1m1 0h1m1 0h1m1 0h1m1 0h1m-63 1h1m1 0h1m4 0h1m1 0h13m1 0h12m1 0h4m1 0h1m2 0h1m15 0h1m-62 1h1m3 0h1m3 0h1m1 0h15m1 0h17m4 0h1m4 0h3m2 0h1m1 0h1m1 0h1m9 0h1m24 0h1m-97 1h3m1 0h3m4 0h2m1 0h13m1 0h4m1 0h3m2 0h2m2 0h1m2 0h1m1 0h2m7 0h1m5 0h1m3 0h1m2 0h1m-72 1h1m1 0h2m2 0h1m2 0h1m2 0h1m1 0h24m3 0h4m8 0h1m1 0h1m1 0h1m11 0h2m11 0h1m-78 1h1m1 0h1m1 0h2m1 0h1m1 0h1m1 0h4m1 0h19m1 0h1m1 0h1m8 0h1m3 0h1m1 0h1m9 0h1m3 0h1m-74 1h2m1 0h2m1 0h1m1 0h1m1 0h2m1 0h11m1 0h15m1 0h1m3 0h1m8 0h2m1 0h2m1 0h1m13 0h1m5 0h1m-80 1h2m3 0h1m2 0h2m3 0h5m1 0h18m3 0h3m3 0h1m5 0h1m1 0h1m3 0h1m2 0h1m1 0h1m4 0h1m-65 1h7m1 0h26m1 0h4m2 0h1m3 0h3m1 0h1m1 0h1m2 0h1m2 0h1m2 0h2m3 0h2m7 0h1m-80 1h2m1 0h1m1 0h1m1 0h2m1 0h2m1 0h7m1 0h4m1 0h1m1 0h10m2 0h3m1 0h2m8 0h2m1 0h1m1 0h1m1 0h1m6 0h1m-69 1h1m2 0h1m5 0h1m1 0h1m1 0h1m1 0h23m3 0h1m2 0h2m4 0h1m4 0h1m2 0h2m5 0h2m1 0h1m2 0h1m-70 1h2m1 0h1m1 0h1m1 0h1m3 0h1m1 0h7m1 0h4m1 0h2m1 0h5m1 0h4m5 0h1m1 0h1m1 0h3m2 0h1m1 0h3m2 0h1m1 0h1m2 0h1m6 0h1m1 0h1m-75 1h1m4 0h1m2 0h2m1 0h4m1 0h3m1 0h10m1 0h3m1 0h7m5 0h1m3 0h3m3 0h1m1 0h2m9 0h1m5 0h1m-79 1h1m1 0h1m1 0h1m4 0h2m1 0h15m1 0h11m1 0h2m4 0h1m9 0h1m1 0h1m2 0h1m1 0h1m1 0h1m4 0h1m-71 1h2m1 0h2m5 0h5m1 0h5m1 0h12m1 0h10m1 0h1m1 0h1m1 0h3m3 0h1m4 0h1m2 0h1m1 0h1m2 0h1m16 0h1m-86 1h1m3 0h9m1 0h23m1 0h1m1 0h2m1 0h2m5 0h1m1 0h2m1 0h1m2 0h1m1 0h1m2 0h1m4 0h1m1 0h1m5 0h1m-77 1h1m3 0h3m3 0h1m1 0h3m1 0h1m1 0h4m1 0h11m1 0h1m1 0h2m1 0h3m6 0h2m1 0h2m2 0h1m4 0h3m2 0h1m-66 1h2m2 0h2m1 0h1m1 0h3m1 0h23m1 0h2m1 0h3m1 0h1m2 0h1m1 0h1m2 0h1m5 0h1m3 0h3m1 0h1m-70 1h1m9 0h1m3 0h3m1 0h19m1 0h4m1 0h1m1 0h3m1 0h2m1 0h1m4 0h2m10 0h1m2 0h1m2 0h1m-76 1h2m6 0h3m1 0h1m1 0h1m1 0h7m1 0h16m2 0h1m3 0h1m2 0h1m2 0h1m1 0h2m2 0h3m5 0h1m-59 1h3m1 0h6m3 0h15m1 0h6m1 0h6m1 0h3m1 0h1m4 0h3m-62 1h6m2 0h7m2 0h20m1 0h2m2 0h3m1 0h1m1 0h2m3 0h1m2 0h3m2 0h2m1 0h1m3 0h1m-68 1h1m1 0h2m1 0h2m1 0h1m1 0h3m1 0h4m1 0h19m1 0h1m2 0h1m3 0h1m1 0h1m3 0h1m2 0h1m1 0h1m1 0h1m9 0h1m-71 1h1m3 0h5m5 0h3m1 0h16m1 0h1m1 0h1m1 0h2m1 0h5m13 0h4m7 0h1m1 0h1m-70 1h3m1 0h3m1 0h1m1 0h3m1 0h21m1 0h4m1 0h2m6 0h1m2 0h2m9 0h1m-67 1h1m2 0h1m1 0h2m1 0h1m1 0h1m2 0h2m2 0h5m1 0h13m1 0h2m1 0h4m4 0h1m3 0h1m1 0h1m1 0h1m8 0h1m7 0h1m-74 1h1m2 0h1m2 0h1m1 0h2m1 0h2m1 0h20m1 0h2m1 0h2m4 0h2m5 0h2m1 0h1m1 0h1m10 0h2m4 0h1m-74 1h1m1 0h1m2 0h11m2 0h19m1 0h1m1 0h1m1 0h1m3 0h1m7 0h1m11 0h1m5 0h1m2 0h1m-75 1h1m5 0h1m1 0h1m1 0h1m1 0h1m1 0h5m1 0h13m1 0h5m2 0h2m1 0h1m1 0h1m9 0h1m4 0h1m3 0h2m5 0h1m16 0h1m-91 1h1m2 0h1m8 0h8m1 0h7m1 0h8m1 0h5m2 0h1m13 0h1m3 0h1m7 0h1m27 0h1m-99 1h2m1 0h1m2 0h2m4 0h1m1 0h4m1 0h6m1 0h3m1 0h5m1 0h3m1 0h4m2 0h1m7 0h1m2 0h1m2 0h1m8 0h1m-72 1h1m1 0h1m1 0h1m2 0h3m2 0h1m1 0h7m1 0h6m1 0h9m1 0h1m3 0h2m8 0h2m1 0h1m2 0h1m-60 1h1m2 0h1m2 0h2m1 0h3m1 0h7m1 0h4m1 0h14m3 0h1m8 0h1m5 0h1m16 0h1m23 0h1m-94 1h1m3 0h2m1 0h5m2 0h16m1 0h3m4 0h2m3 0h1m6 0h1m1 0h3m-55 1h2m2 0h1m1 0h11m1 0h4m1 0h4m1 0h1m1 0h2m1 0h1m1 0h2m10 0h1m8 0h1m-58 1h5m1 0h2m1 0h15m1 0h9m1 0h1m2 0h3m2 0h1m-40 1h13m1 0h5m1 0h2m1 0h5m2 0h1m1 0h1m2 0h1m1 0h1m2 0h1m24 0h2m-74 1h3m2 0h2m2 0h1m2 0h5m1 0h10m2 0h1m1 0h3m3 0h2m1 0h1m1 0h1m19 0h1m30 0h1m-98 1h1m1 0h1m2 0h1m1 0h4m8 0h1m1 0h15m1 0h3m1 0h1m20 0h1m-57 1h1m3 0h2m1 0h4m1 0h1m2 0h2m1 0h4m1 0h4m3 0h5m1 0h2m2 0h1m13 0h1m1 0h1m-62 1h1m6 0h2m4 0h12m1 0h1m1 0h1m2 0h4m5 0h2m1 0h2m11 0h1m-58 1h1m6 0h1m2 0h2m2 0h1m4 0h1m2 0h8m1 0h7m1 0h1m1 0h5m-43 1h1m3 0h2m5 0h7m2 0h1m2 0h3m1 0h2m1 0h5m1 0h2m2 0h3m-46 1h1m6 0h1m1 0h3m1 0h1m2 0h2m2 0h7m3 0h4m1 0h2m4 0h3m3 0h1m-46 1h2m6 0h1m1 0h3m3 0h6m1 0h3m3 0h1m1 0h1m2 0h1m1 0h2m22 0h1m-62 1h1m3 0h1m2 0h1m2 0h2m1 0h2m3 0h3m2 0h1m1 0h3m2 0h1m1 0h3m1 0h2m-22 1h3m2 0h3m1 0h2m2 0h1m1 0h1m2 0h4m1 0h1m1 0h2m2 0h1m-47 1h1m2 0h1m1 0h1m8 0h1m1 0h7m3 0h5m1 0h1m2 0h3m2 0h1m1 0h1m1 0h1m-39 1h1m5 0h1m1 0h1m1 0h3m1 0h2m2 0h8m1 0h4m1 0h1m-38 1h1m2 0h1m5 0h1m2 0h1m6 0h5m1 0h3m3 0h1m6 0h1m2 0h2m-35 1h2m3 0h2m4 0h3m1 0h1m1 0h2m1 0h1m11 0h2m-33 1h1m3 0h1m3 0h1m7 0h1m3 0h2m2 0h2m2 0h1m-18 1h1m2 0h2m1 0h1m1 0h2m1 0h1m5 0h1m-39 1h1m5 0h1m3 0h1m4 0h1m11 0h1m2 0h1m8 0h1m-34 1h1m3 0h1m1 0h1m5 0h1m3 0h1m1 0h1m3 0h4m7 0h1m17 0h1m-57 1h1m6 0h1m15 0h1m-6 1h1m5 0h1m2 0h2m5 0h1m1 0h1m3 0h1m-42 1h1m1 0h1m1 0h1m8 0h1m6 0h2m3 0h1m2 0h1m2 0h1m-19 1h1m4 0h1m4 0h2m2 0h1m1 0h1m9 0h1"/></defs>
<use href="#dp5" fill="none" stroke="#000" stroke-opacity="0.25" stroke-width="2.2"/>
<use href="#dp5" fill="none" stroke="#222" stroke-width="1.1"/>
<path d="M253.2 192.1V332.0M205.6 269.1H344.4" stroke="#333" stroke-width="1.2" fill="none"/>
<rect x="205.6" y="192.1" width="138.80" height="139.90" fill="none" stroke="#333" stroke-width="1.5"/>
<path d="M216.0 332.0v1.8M205.6 321.5h-1.8M222.2 332.0v1.8M205.6 315.3h-1.8M226.5 332.0v1.8M205.6 310.9h-1.8M229.9 332.0v1.8M205.6 307.6h-1.8M232.6 332.0v1.8M205.6 304.8h-1.8M234.9 332.0v1.8M205.6 302.4h-1.8M236.9 332.0v1.8M205.6 300.4h-1.8M238.7 332.0v1.8M205.6 298.6h-1.8M240.3 332.0v3M205.6 297.0h-3M250.7 332.0v1.8M205.6 286.5h-1.8M256.9 332.0v1.8M205.6 280.3h-1.8M261.2 332.0v1.8M205.6 276.0h-1.8M264.6 332.0v1.8M205.6 272.6h-1.8M267.3 332.0v1.8M205.6 269.8h-1.8M269.6 332.0v1.8M205.6 267.5h-1.8M271.6 332.0v1.8M205.6 265.4h-1.8M273.4 332.0v1.8M205.6 263.7h-1.8M275.0 332.0v3M205.6 262.1h-3M285.4 332.0v1.8M205.6 251.5h-1.8M291.6 332.0v1.8M205.6 245.4h-1.8M295.9 332.0v1.8M205.6 241.0h-1.8M299.3 332.0v1.8M205.6 237.6h-1.8M302.0 332.0v1.8M205.6 234.8h-1.8M304.3 332.0v1.8M205.6 232.5h-1.8M306.3 332.0v1.8M205.6 230.5h-1.8M308.1 332.0v1.8M205.6 228.7h-1.8M309.7 332.0v3M205.6 227.1h-3M320.1 332.0v1.8M205.6 216.5h-1.8M326.3 332.0v1.8M205.6 210.4h-1.8M330.6 332.0v1.8M205.6 206.0h-1.8M334.0 332.0v1.8M205.6 202.6h-1.8M336.7 332.0v1.8M205.6 199.9h-1.8M339.0 332.0v1.8M205.6 197.5h-1.8M341.0 332.0v1.8M205.6 195.5h-1.8M342.8 332.0v1.8M205.6 193.7h-1.8M344.4 332.0v3M205.6 192.1h-3M205.6 332.0h-3M205.6 332.0v3" stroke="#333" stroke-width="1" fill="none"/>
<text x="201.9" y="343.4" font-size="6.6" fill="#222" textLength="10" lengthAdjust="spacingAndGlyphs">10<tspan dy="-4.2">0</tspan></text>
<text transform="translate(200.4,337.2) rotate(-90)" font-size="6.6" fill="#222" textLength="10" lengthAdjust="spacingAndGlyphs">10<tspan dy="-4.2">0</tspan></text>
<text x="236.6" y="343.4" font-size="6.6" fill="#222" textLength="10" lengthAdjust="spacingAndGlyphs">10<tspan dy="-4.2">1</tspan></text>
<text transform="translate(200.4,302.2) rotate(-90)" font-size="6.6" fill="#222" textLength="10" lengthAdjust="spacingAndGlyphs">10<tspan dy="-4.2">1</tspan></text>
<text x="271.3" y="343.4" font-size="6.6" fill="#222" textLength="10" lengthAdjust="spacingAndGlyphs">10<tspan dy="-4.2">2</tspan></text>
<text transform="translate(200.4,267.2) rotate(-90)" font-size="6.6" fill="#222" textLength="10" lengthAdjust="spacingAndGlyphs">10<tspan dy="-4.2">2</tspan></text>
<text x="306.0" y="343.4" font-size="6.6" fill="#222" textLength="10" lengthAdjust="spacingAndGlyphs">10<tspan dy="-4.2">3</tspan></text>
<text transform="translate(200.4,232.3) rotate(-90)" font-size="6.6" fill="#222" textLength="10" lengthAdjust="spacingAndGlyphs">10<tspan dy="-4.2">3</tspan></text>
<text x="340.7" y="343.4" font-size="6.6" fill="#222" textLength="10" lengthAdjust="spacingAndGlyphs">10<tspan dy="-4.2">4</tspan></text>
<text transform="translate(200.4,197.3) rotate(-90)" font-size="6.6" fill="#222" textLength="10" lengthAdjust="spacingAndGlyphs">10<tspan dy="-4.2">4</tspan></text>
<text x="239.30" y="186.20" font-size="16.6" textLength="65.73" lengthAdjust="spacingAndGlyphs">p#7: +2y</text>
<path d="M286.8 219.2H321.1" stroke="#808080" stroke-width="1.3"/>
<path d="M303.4 202.4V236" stroke="#444" stroke-width="1.3"/>
<text x="275.55" y="215.10" font-size="14.6" font-weight="bold" textLength="20.80" lengthAdjust="spacingAndGlyphs">6.9</text>
<text x="307.74" y="215.10" font-size="14.6" font-weight="bold" textLength="21.39" lengthAdjust="spacingAndGlyphs">7.0</text>
<text x="308.66" y="236.40" font-size="14.6" font-weight="bold" textLength="20.37" lengthAdjust="spacingAndGlyphs">3.6</text>
<defs><path id="dp6" d="M392 218.5h1m59 22h1m7 2h1m7 0h1m1 0h1m-14 1h1m1 3h2m3 0h1m7 0h1m-26 1h1m24 1h1m-93 1h1m73 0h1m1 0h1m7 0h1m4 0h1m-24 1h1m1 0h1m3 0h1m2 0h1m6 0h1m6 0h1m-20 1h1m18 0h1m-31 1h1m1 0h2m8 0h1m3 0h1m2 0h1m12 0h1m6 0h1m-49 1h1m2 0h1m7 0h1m7 0h1m1 0h3m2 0h1m5 0h1m1 0h1m8 0h1m1 0h1m-39 1h1m9 0h2m4 0h1m1 0h4m5 0h2m2 0h1m-67 1h2m43 0h1m1 0h2m1 0h1m3 0h2m8 0h1m-46 1h1m4 0h1m12 0h1m7 0h1m3 0h1m1 0h1m1 0h1m1 0h3m5 0h2m-35 1h2m11 0h1m1 0h1m1 0h1m3 0h3m4 0h1m1 0h1m1 0h2m3 0h1m5 0h1m-43 1h1m8 0h1m5 0h2m6 0h3m2 0h1m2 0h1m3 0h1m3 0h1m-69 1h1m27 0h1m8 0h1m2 0h2m2 0h1m3 0h1m2 0h2m1 0h1m1 0h2m1 0h2m15 0h1m-79 1h1m3 0h1m1 0h2m4 0h1m1 0h1m14 0h1m3 0h1m3 0h2m5 0h2m4 0h5m2 0h3m13 0h1m-80 1h1m3 0h4m1 0h1m34 0h1m4 0h2m1 0h2m5 0h1m3 0h1m7 0h1m6 0h1m-68 1h1m10 0h1m5 0h1m10 0h1m2 0h1m1 0h1m2 0h1m2 0h2m1 0h3m3 0h2m1 0h1m3 0h1m-75 1h2m10 0h1m3 0h1m6 0h1m14 0h1m7 0h2m7 0h3m1 0h1m2 0h4m1 0h1m1 0h3m1 0h1m2 0h2m-76 1h1m9 0h1m1 0h1m3 0h1m1 0h1m17 0h1m9 0h1m4 0h1m4 0h2m3 0h1m2 0h1m13 0h1m1 0h1m-78 1h1m5 0h2m4 0h1m4 0h1m1 0h1m11 0h1m5 0h2m2 0h1m1 0h2m4 0h1m1 0h2m1 0h4m3 0h4m-68 1h1m7 0h3m2 0h4m1 0h2m7 0h1m8 0h1m3 0h2m1 0h1m1 0h2m2 0h1m1 0h3m1 0h5m2 0h2m2 0h1m1 0h2m-73 1h1m3 0h1m4 0h1m2 0h5m1 0h2m5 0h1m3 0h2m10 0h1m3 0h1m7 0h3m2 0h2m1 0h1m1 0h1m1 0h2m4 0h1m1 0h1m-67 1h1m2 0h2m1 0h3m2 0h1m2 0h1m2 0h2m10 0h1m5 0h1m5 0h2m1 0h2m1 0h3m1 0h2m3 0h2m5 0h1m9 0h2m-81 1h1m5 0h1m5 0h1m1 0h8m2 0h1m7 0h1m6 0h2m2 0h2m1 0h3m1 0h2m1 0h3m1 0h4m3 0h4m1 0h1m1 0h1m1 0h2m-71 1h2m4 0h1m1 0h3m2 0h2m1 0h2m2 0h1m10 0h1m2 0h1m5 0h5m3 0h8m1 0h1m3 0h2m3 0h1m5 0h2m3 0h1m-86 1h1m4 0h1m9 0h3m1 0h2m1 0h2m3 0h2m3 0h2m4 0h1m7 0h1m1 0h10m2 0h1m2 0h4m3 0h1m-67 1h1m4 0h1m2 0h1m1 0h2m3 0h1m2 0h13m1 0h1m1 0h2m1 0h1m3 0h1m1 0h2m1 0h6m1 0h4m1 0h1m2 0h2m1 0h1m2 0h1m10 0h1m-78 1h1m6 0h2m1 0h2m1 0h1m1 0h3m1 0h2m1 0h3m1 0h2m4 0h1m4 0h1m1 0h6m1 0h6m1 0h1m5 0h1m3 0h3m3 0h1m-64 1h4m2 0h3m1 0h3m1 0h1m1 0h3m5 0h1m4 0h4m1 0h7m1 0h4m1 0h3m2 0h2m1 0h1m3 0h1m2 0h1m-69 1h1m4 0h6m1 0h4m1 0h1m2 0h3m1 0h2m3 0h1m3 0h1m1 0h7m2 0h2m2 0h2m1 0h3m2 0h1m1 0h3m1 0h2m1 0h1m1 0h1m3 0h1m-87 1h1m10 0h1m7 0h1m2 0h1m1 0h1m1 0h2m1 0h7m2 0h2m2 0h1m1 0h3m3 0h2m1 0h1m1 0h3m2 0h1m1 0h2m2 0h5m1 0h2m1 0h2m1 0h1m5 0h2m8 0h1m-90 1h1m14 0h2m2 0h9m1 0h3m1 0h2m1 0h4m5 0h2m1 0h1m1 0h1m1 0h8m3 0h3m1 0h4m2 0h1m2 0h1m-80 1h1m3 0h1m5 0h2m2 0h2m3 0h12m1 0h5m1 0h4m3 0h2m2 0h1m1 0h9m1 0h4m1 0h1m1 0h5m1 0h1m1 0h1m4 0h1m-79 1h1m3 0h1m2 0h2m5 0h2m1 0h5m1 0h8m1 0h3m2 0h1m1 0h1m2 0h1m2 0h1m2 0h6m1 0h9m1 0h3m1 0h3m3 0h1m2 0h1m-73 1h1m1 0h1m5 0h2m2 0h1m1 0h1m2 0h4m2 0h4m1 0h2m1 0h1m2 0h2m3 0h1m1 0h3m1 0h9m1 0h3m2 0h4m2 0h1m2 0h1m-62 1h4m1 0h7m1 0h3m1 0h8m1 0h1m2 0h4m2 0h2m2 0h1m1 0h2m2 0h3m1 0h1m5 0h1m1 0h1m6 0h1m-78 1h1m4 0h1m3 0h1m1 0h1m5 0h4m1 0h12m2 0h1m1 0h2m2 0h2m1 0h9m1 0h1m1 0h4m1 0h1m1 0h2m2 0h2m2 0h1m-81 1h1m5 0h1m3 0h1m4 0h1m4 0h1m1 0h20m1 0h2m1 0h2m2 0h2m1 0h5m1 0h3m1 0h2m1 0h2m1 0h3m8 0h1m1 0h1m1 0h1m-80 1h1m5 0h1m1 0h5m1 0h1m2 0h1m2 0h1m1 0h14m2 0h1m2 0h6m3 0h2m1 0h2m1 0h1m2 0h1m2 0h1m3 0h1m1 0h1m1 0h1m1 0h1m1 0h1m-79 1h1m3 0h1m1 0h1m10 0h9m2 0h10m1 0h4m3 0h1m2 0h1m1 0h1m1 0h3m4 0h2m4 0h1m2 0h1m3 0h1m4 0h1m10 0h1m-81 1h1m2 0h3m1 0h1m3 0h1m1 0h8m1 0h7m1 0h1m2 0h4m3 0h1m1 0h1m2 0h1m3 0h2m1 0h3m1 0h1m1 0h2m2 0h1m1 0h1m6 0h1m2 0h1m-74 1h1m1 0h2m3 0h18m1 0h2m1 0h1m1 0h3m1 0h2m2 0h2m4 0h1m3 0h2m1 0h3m3 0h1m11 0h1m-82 1h1m2 0h1m4 0h1m2 0h1m2 0h2m3 0h1m3 0h1m1 0h16m1 0h2m1 0h2m4 0h1m5 0h1m1 0h2m1 0h1m1 0h1m1 0h1m1 0h1m1 0h2m1 0h1m-73 1h3m3 0h2m1 0h2m1 0h1m1 0h1m1 0h1m2 0h3m1 0h13m1 0h3m1 0h2m2 0h1m1 0h1m1 0h1m5 0h2m2 0h1m2 0h2m3 0h1m6 0h1m-73 1h2m1 0h1m4 0h1m1 0h3m3 0h23m1 0h5m4 0h2m1 0h1m2 0h1m7 0h1m1 0h2m14 0h1m-84 1h1m1 0h1m1 0h1m1 0h2m1 0h4m2 0h3m2 0h18m3 0h3m2 0h2m1 0h1m3 0h2m2 0h1m1 0h1m3 0h2m1 0h1m11 0h1m7 0h1m-86 1h1m5 0h2m2 0h3m3 0h1m2 0h1m2 0h14m2 0h4m1 0h1m1 0h1m14 0h1m1 0h1m6 0h1m4 0h1m4 0h1m2 0h1m-70 1h1m1 0h1m1 0h2m1 0h2m1 0h25m1 0h1m6 0h1m30 0h1m-90 1h1m2 0h1m1 0h1m3 0h1m2 0h1m1 0h1m2 0h4m1 0h21m1 0h3m2 0h2m5 0h1m5 0h2m4 0h1m-65 1h4m3 0h1m3 0h3m1 0h4m1 0h2m1 0h13m1 0h3m2 0h1m8 0h1m11 0h1m3 0h1m5 0h1m-76 1h2m1 0h1m1 0h2m1 0h1m1 0h3m1 0h7m1 0h21m3 0h1m7 0h1m4 0h2m23 0h1m36 0h1m-122 1h1m1 0h3m2 0h1m1 0h1m2 0h1m1 0h1m3 0h1m1 0h23m6 0h1m4 0h1m2 0h1m2 0h1m4 0h1m14 0h1m-78 1h2m2 0h1m4 0h32m3 0h1m2 0h1m6 0h1m-58 1h2m2 0h1m1 0h2m1 0h1m1 0h7m1 0h25m3 0h1m22 0h1m18 0h1m-91 1h1m1 0h1m2 0h1m2 0h1m1 0h2m1 0h2m1 0h2m1 0h24m1 0h1m2 0h1m26 0h2m8 0h1m-82 1h1m1 0h2m1 0h1m1 0h2m1 0h6m2 0h14m1 0h8m2 0h2m1 0h1m1 0h1m7 0h1m2 0h1m6 0h1m19 0h1m1 0h1m1 0h1m-86 1h2m2 0h1m1 0h2m1 0h1m1 0h21m1 0h1m1 0h1m1 0h1m2 0h1m2 0h1m9 0h1m1 0h1m7 0h1m-72 1h2m2 0h1m2 0h1m2 0h1m4 0h1m1 0h1m1 0h29m9 0h2m10 0h1m7 0h1m-76 1h4m1 0h2m1 0h1m1 0h1m1 0h3m1 0h2m1 0h17m1 0h8m3 0h1m19 0h2m27 0h1m-94 1h1m2 0h1m1 0h1m1 0h7m1 0h5m1 0h13m2 0h3m2 0h1m5 0h2m7 0h1m1 0h1m5 0h1m4 0h1m-77 1h1m2 0h1m5 0h2m1 0h4m2 0h2m2 0h23m2 0h1m4 0h2m4 0h1m7 0h1m1 0h1m30 0h1m-99 1h1m1 0h1m3 0h1m3 0h1m3 0h4m1 0h3m1 0h3m1 0h16m1 0h4m19 0h1m4 0h1m1 0h1m-73 1h3m2 0h3m2 0h2m3 0h7m1 0h19m4 0h1m5 0h1m6 0h2m1 0h2m15 0h1m-80 1h1m4 0h2m2 0h34m5 0h1m8 0h1m-59 1h1m3 0h1m1 0h1m1 0h3m6 0h2m2 0h22m15 0h1m5 0h1m-66 1h2m1 0h2m2 0h8m1 0h3m1 0h1m1 0h7m1 0h7m1 0h6m3 0h1m26 0h1m-72 1h2m3 0h5m1 0h2m2 0h11m1 0h14m3 0h1m1 0h1m17 0h1m8 0h1m17 0h1m-96 1h4m1 0h1m1 0h1m1 0h2m1 0h2m2 0h6m2 0h15m3 0h1m2 0h4m5 0h1m3 0h1m34 0h1m-92 1h1m2 0h2m1 0h1m1 0h1m4 0h1m1 0h4m1 0h2m1 0h7m1 0h7m1 0h3m1 0h2m20 0h1m9 0h1m-78 1h1m5 0h1m1 0h1m1 0h1m4 0h1m1 0h2m1 0h2m1 0h3m1 0h8m1 0h6m1 0h1m1 0h1m1 0h2m4 0h1m4 0h1m8 0h1m13 0h1m-81 1h2m1 0h1m1 0h3m3 0h1m1 0h1m1 0h2m1 0h2m1 0h25m11 0h1m20 0h1m-76 1h2m1 0h2m1 0h3m4 0h5m2 0h1m1 0h13m2 0h2m1 0h1m5 0h1m13 0h1m12 0h1m6 0h1m-84 1h1m1 0h1m2 0h2m3 0h1m2 0h3m2 0h7m1 0h1m1 0h6m1 0h3m1 0h4m2 0h1m1 0h1m5 0h1m2 0h1m-53 1h1m1 0h3m4 0h1m1 0h2m1 0h2m2 0h2m1 0h7m1 0h6m1 0h4m28 0h1m5 0h1m-79 1h1m4 0h2m5 0h1m2 0h1m4 0h2m1 0h1m1 0h3m1 0h7m1 0h1m1 0h2m1 0h1m2 0h3m2 0h1m31 0h2m-78 1h2m4 0h3m3 0h1m3 0h1m1 0h6m1 0h9m1 0h1m1 0h1m1 0h1m7 0h1m-51 1h3m18 0h2m2 0h13m2 0h1m28 0h1m8 0h1m6 0h1m-88 1h1m1 0h1m4 0h1m4 0h2m2 0h1m1 0h2m1 0h1m1 0h1m2 0h3m1 0h9m20 0h1m13 0h1m-70 1h4m1 0h2m4 0h1m2 0h1m1 0h1m1 0h4m2 0h1m2 0h7m4 0h2m14 0h1m13 0h1m-72 1h1m1 0h1m4 0h1m1 0h1m1 0h1m2 0h1m1 0h1m1 0h1m1 0h1m1 0h6m1 0h5m1 0h2m1 0h3m32 0h1m4 0h1m-74 1h3m1 0h1m1 0h1m3 0h5m2 0h2m2 0h1m3 0h5m1 0h2m1 0h2m1 0h1m2 0h1m1 0h1m-47 1h1m17 0h2m2 0h4m1 0h10m5 0h1m33 0h1m-64 1h1m9 0h8m1 0h1m1 0h1m1 0h1m2 0h1m3 0h1m10 0h1m-52 1h1m8 0h1m2 0h3m1 0h2m1 0h1m1 0h1m1 0h3m1 0h2m1 0h1m2 0h3m2 0h1m34 0h1m-54 1h1m1 0h1m4 0h6m4 0h1m3 0h1"/></defs>
<use href="#dp6" fill="none" stroke="#000" stroke-opacity="0.25" stroke-width="2.2"/>
<use href="#dp6" fill="none" stroke="#222" stroke-width="1.1"/>
<path d="M424.6 191.0V330.6M372.3 286.8H511.3" stroke="#333" stroke-width="1.2" fill="none"/>
<rect x="372.3" y="191.0" width="139.00" height="139.60" fill="none" stroke="#333" stroke-width="1.5"/>
<path d="M382.8 330.6v1.8M372.3 320.1h-1.8M388.9 330.6v1.8M372.3 313.9h-1.8M393.2 330.6v1.8M372.3 309.6h-1.8M396.6 330.6v1.8M372.3 306.2h-1.8M399.3 330.6v1.8M372.3 303.4h-1.8M401.7 330.6v1.8M372.3 301.1h-1.8M403.7 330.6v1.8M372.3 299.1h-1.8M405.5 330.6v1.8M372.3 297.3h-1.8M407.1 330.6v3M372.3 295.7h-3M417.5 330.6v1.8M372.3 285.2h-1.8M423.6 330.6v1.8M372.3 279.0h-1.8M428.0 330.6v1.8M372.3 274.7h-1.8M431.3 330.6v1.8M372.3 271.3h-1.8M434.1 330.6v1.8M372.3 268.5h-1.8M436.4 330.6v1.8M372.3 266.2h-1.8M438.4 330.6v1.8M372.3 264.2h-1.8M440.2 330.6v1.8M372.3 262.4h-1.8M441.8 330.6v3M372.3 260.8h-3M452.3 330.6v1.8M372.3 250.3h-1.8M458.4 330.6v1.8M372.3 244.1h-1.8M462.7 330.6v1.8M372.3 239.8h-1.8M466.1 330.6v1.8M372.3 236.4h-1.8M468.8 330.6v1.8M372.3 233.6h-1.8M471.2 330.6v1.8M372.3 231.3h-1.8M473.2 330.6v1.8M372.3 229.3h-1.8M475.0 330.6v1.8M372.3 227.5h-1.8M476.6 330.6v3M372.3 225.9h-3M487.0 330.6v1.8M372.3 215.4h-1.8M493.1 330.6v1.8M372.3 209.2h-1.8M497.5 330.6v1.8M372.3 204.9h-1.8M500.8 330.6v1.8M372.3 201.5h-1.8M503.6 330.6v1.8M372.3 198.7h-1.8M505.9 330.6v1.8M372.3 196.4h-1.8M507.9 330.6v1.8M372.3 194.4h-1.8M509.7 330.6v1.8M372.3 192.6h-1.8M511.3 330.6v3M372.3 191.0h-3M372.3 330.6h-3M372.3 330.6v3" stroke="#333" stroke-width="1" fill="none"/>
<text x="368.6" y="342.0" font-size="6.6" fill="#222" textLength="10" lengthAdjust="spacingAndGlyphs">10<tspan dy="-4.2">0</tspan></text>
<text transform="translate(367.1,335.8) rotate(-90)" font-size="6.6" fill="#222" textLength="10" lengthAdjust="spacingAndGlyphs">10<tspan dy="-4.2">0</tspan></text>
<text x="403.4" y="342.0" font-size="6.6" fill="#222" textLength="10" lengthAdjust="spacingAndGlyphs">10<tspan dy="-4.2">1</tspan></text>
<text transform="translate(367.1,300.9) rotate(-90)" font-size="6.6" fill="#222" textLength="10" lengthAdjust="spacingAndGlyphs">10<tspan dy="-4.2">1</tspan></text>
<text x="438.1" y="342.0" font-size="6.6" fill="#222" textLength="10" lengthAdjust="spacingAndGlyphs">10<tspan dy="-4.2">2</tspan></text>
<text transform="translate(367.1,266.0) rotate(-90)" font-size="6.6" fill="#222" textLength="10" lengthAdjust="spacingAndGlyphs">10<tspan dy="-4.2">2</tspan></text>
<text x="472.9" y="342.0" font-size="6.6" fill="#222" textLength="10" lengthAdjust="spacingAndGlyphs">10<tspan dy="-4.2">3</tspan></text>
<text transform="translate(367.1,231.1) rotate(-90)" font-size="6.6" fill="#222" textLength="10" lengthAdjust="spacingAndGlyphs">10<tspan dy="-4.2">3</tspan></text>
<text x="507.6" y="342.0" font-size="6.6" fill="#222" textLength="10" lengthAdjust="spacingAndGlyphs">10<tspan dy="-4.2">4</tspan></text>
<text transform="translate(367.1,196.2) rotate(-90)" font-size="6.6" fill="#222" textLength="10" lengthAdjust="spacingAndGlyphs">10<tspan dy="-4.2">4</tspan></text>
<text x="408.47" y="185.90" font-size="16.6" textLength="51.89" lengthAdjust="spacingAndGlyphs">control</text>
<path d="M460.4 219.2H495.3" stroke="#808080" stroke-width="1.3"/>
<path d="M478.1 199.9V233.5" stroke="#444" stroke-width="1.3"/>
<text x="440.24" y="213.50" font-size="14.6" font-weight="bold" textLength="29.57" lengthAdjust="spacingAndGlyphs">14.2</text>
<text x="481.73" y="213.50" font-size="14.6" font-weight="bold" textLength="21.52" lengthAdjust="spacingAndGlyphs">7.6</text>
<text x="482.03" y="236.70" font-size="14.6" font-weight="bold" textLength="21.34" lengthAdjust="spacingAndGlyphs">1.7</text>
<text x="-0.34" y="19.60" font-size="24.2" font-weight="bold" textLength="18.62" lengthAdjust="spacingAndGlyphs">A</text>
<text transform="translate(18.80,83.90) rotate(-90)" x="0" y="0" font-size="17" font-weight="bold" textLength="43.68" lengthAdjust="spacingAndGlyphs">CD25</text>
<text x="441.76" y="358.50" font-size="17" font-weight="bold" textLength="51.36" lengthAdjust="spacingAndGlyphs">FoxP3</text>
<text x="186.59" y="372.10" font-size="16.7" textLength="164.22" lengthAdjust="spacingAndGlyphs"><tspan font-size="16.70">gated on CD4</tspan><tspan font-size="10.02" dy="-6.5">+</tspan><tspan font-size="16.70" dy="6.5"> T cells</tspan></text>
<path d="M11.6 116V352.4H412" stroke="#000" stroke-width="1.7" fill="none"/>
<path d="M11.6 105L6 117.5H17.2Z" fill="#000"/>
<path d="M421.5 352.4L410.5 346.6V358.2Z" fill="#000"/>
<text x="0.32" y="412.80" font-size="26" font-weight="bold" textLength="18.12" lengthAdjust="spacingAndGlyphs">B</text>
<path d="M70 454.6V667.9H290M70 667.9h-5.5M70 637.4h-5.5M70 607.0h-5.5M70 576.5h-5.5M70 546.0h-5.5M70 515.5h-5.5M70 485.1h-5.5M70 454.6h-5.5M97 667.9v6M150.4 667.9v6M204 667.9v6M257.5 667.9v6" stroke="#333" stroke-width="1.3" fill="none"/>
<text x="38.57" y="673.40" font-size="15.3" textLength="22.25" lengthAdjust="spacingAndGlyphs">0.0</text>
<text x="38.39" y="642.93" font-size="15.3" textLength="22.49" lengthAdjust="spacingAndGlyphs">2.5</text>
<text x="38.56" y="612.46" font-size="15.3" textLength="22.27" lengthAdjust="spacingAndGlyphs">5.0</text>
<text x="38.37" y="581.99" font-size="15.3" textLength="22.51" lengthAdjust="spacingAndGlyphs">7.5</text>
<text x="30.83" y="551.51" font-size="15.3" textLength="29.97" lengthAdjust="spacingAndGlyphs">10.0</text>
<text x="30.82" y="521.04" font-size="15.3" textLength="30.02" lengthAdjust="spacingAndGlyphs">12.5</text>
<text x="30.83" y="490.57" font-size="15.3" textLength="29.97" lengthAdjust="spacingAndGlyphs">15.0</text>
<text x="30.82" y="460.10" font-size="15.3" textLength="30.02" lengthAdjust="spacingAndGlyphs">17.5</text>
<path d="M97 496.5V517.7M97 582.8V606.8M87.8 496.5h18.5M87.8 606.8h18.5" stroke="#333" stroke-width="1.4" fill="none"/>
<rect x="79.2" y="517.7" width="35.5" height="65.1" fill="#d3d3d3" stroke="#333" stroke-width="1.4"/>
<path d="M79.2 569.7h35.5" stroke="#333" stroke-width="1.6"/>
<path d="M150.4 484.8V511.6M150.4 568.4V569.7M141.2 484.8h18.5M141.2 569.7h18.5" stroke="#333" stroke-width="1.4" fill="none"/>
<rect x="132.7" y="511.6" width="35.5" height="56.8" fill="#d3d3d3" stroke="#333" stroke-width="1.4"/>
<path d="M132.7 553.1h35.5" stroke="#333" stroke-width="1.6"/>
<path d="M204 578.8V584.0M204 620.1V642.3M194.8 578.8h18.5M194.8 642.3h18.5" stroke="#333" stroke-width="1.4" fill="none"/>
<rect x="186.2" y="584.0" width="35.5" height="36.1" fill="#d3d3d3" stroke="#333" stroke-width="1.4"/>
<path d="M186.2 601.1h35.5" stroke="#333" stroke-width="1.6"/>
<path d="M257.5 473.0V512.0M257.5 552.5V574.9M248.2 473.0h18.5M248.2 574.9h18.5" stroke="#333" stroke-width="1.4" fill="none"/>
<rect x="239.8" y="512.0" width="35.5" height="40.5" fill="#d3d3d3" stroke="#333" stroke-width="1.4"/>
<path d="M239.8 538.0h35.5" stroke="#333" stroke-width="1.6"/>
<path d="M98.2 418.5V414.6H262.9V418.5M98.2 446.5V442.6H207.5V446.5" stroke="#333" stroke-width="1.3" fill="none"/>
<text x="147.82" y="409.50" font-size="16" textLength="59.07" lengthAdjust="spacingAndGlyphs"><tspan font-style="italic" font-size="16.00">P</tspan><tspan font-size="16.00"> = .048</tspan></text>
<text x="127.92" y="438.30" font-size="16" textLength="58.24" lengthAdjust="spacingAndGlyphs"><tspan font-style="italic" font-size="16.00">P</tspan><tspan font-size="16.00"> = .001</tspan></text>
<text x="73.33" y="691.40" font-size="15.8" textLength="47.22" lengthAdjust="spacingAndGlyphs">control</text>
<text x="81.47" y="711.00" font-size="15.8" textLength="34.99" lengthAdjust="spacingAndGlyphs">n=14</text>
<text x="135.57" y="691.50" font-size="15.8" textLength="30.21" lengthAdjust="spacingAndGlyphs">SLE</text>
<text x="122.42" y="710.80" font-size="15.8" textLength="53.95" lengthAdjust="spacingAndGlyphs">after Tx</text>
<text x="137.91" y="727.90" font-size="15.8" textLength="27.88" lengthAdjust="spacingAndGlyphs">n=5</text>
<text x="188.77" y="691.60" font-size="15.8" textLength="30.42" lengthAdjust="spacingAndGlyphs">SLE</text>
<text x="184.03" y="711.30" font-size="15.8" textLength="41.07" lengthAdjust="spacingAndGlyphs">active</text>
<text x="188.45" y="728.80" font-size="15.8" textLength="35.57" lengthAdjust="spacingAndGlyphs">n=10</text>
<text x="242.27" y="691.60" font-size="15.8" textLength="30.42" lengthAdjust="spacingAndGlyphs">SLE</text>
<text x="232.97" y="711.30" font-size="15.8" textLength="52.42" lengthAdjust="spacingAndGlyphs">inactive</text>
<text x="241.97" y="728.80" font-size="15.8" textLength="34.78" lengthAdjust="spacingAndGlyphs">n=14</text>
<text x="381.02" y="689.80" font-size="15.8" textLength="48.36" lengthAdjust="spacingAndGlyphs">control</text>
<text x="388.70" y="710.00" font-size="15.8" textLength="37.39" lengthAdjust="spacingAndGlyphs">n=14</text>
<text x="462.47" y="690.90" font-size="15.8" textLength="30.32" lengthAdjust="spacingAndGlyphs">SLE</text>
<text x="453.03" y="711.50" font-size="15.8" textLength="53.74" lengthAdjust="spacingAndGlyphs">after Tx</text>
<text x="468.08" y="727.90" font-size="15.8" textLength="28.52" lengthAdjust="spacingAndGlyphs">n=5</text>
<text transform="translate(16.50,691.59) rotate(-90)" x="0" y="0" font-size="19.2" textLength="261.08" lengthAdjust="spacingAndGlyphs"><tspan font-size="19.20">% FoxP3</tspan><tspan font-size="11.90" dy="-8.5">+</tspan><tspan font-size="19.20" dy="8.5"> among CD4</tspan><tspan font-size="11.90" dy="-8.5">+</tspan><tspan font-size="19.20" dy="8.5"> T cells</tspan></text>
<text x="305.62" y="412.60" font-size="24.5" font-weight="bold" textLength="17.34" lengthAdjust="spacingAndGlyphs">C</text>
<path d="M368.7 454.3V667.1H520M368.7 667.1h-5.5M368.7 636.7h-5.5M368.7 606.3h-5.5M368.7 575.9h-5.5M368.7 545.5h-5.5M368.7 515.1h-5.5M368.7 484.7h-5.5M368.7 454.3h-5.5M404.8 667.1v6M477.4 667.1v6" stroke="#333" stroke-width="1.3" fill="none"/>
<text x="347.82" y="672.60" font-size="15.3" textLength="11.17" lengthAdjust="spacingAndGlyphs">0</text>
<text x="337.95" y="642.20" font-size="15.3" textLength="21.05" lengthAdjust="spacingAndGlyphs">25</text>
<text x="338.15" y="611.80" font-size="15.3" textLength="20.78" lengthAdjust="spacingAndGlyphs">50</text>
<text x="337.93" y="581.40" font-size="15.3" textLength="21.07" lengthAdjust="spacingAndGlyphs">75</text>
<text x="332.39" y="551.00" font-size="15.3" textLength="26.43" lengthAdjust="spacingAndGlyphs">100</text>
<text x="332.39" y="520.60" font-size="15.3" textLength="26.48" lengthAdjust="spacingAndGlyphs">125</text>
<text x="332.39" y="490.20" font-size="15.3" textLength="26.43" lengthAdjust="spacingAndGlyphs">150</text>
<text x="332.39" y="459.80" font-size="15.3" textLength="26.48" lengthAdjust="spacingAndGlyphs">175</text>
<path d="M403.9 447V443.1H475.9V447" stroke="#333" stroke-width="1.3" fill="none"/>
<text x="416.71" y="438.00" font-size="16.5" textLength="51.33" lengthAdjust="spacingAndGlyphs"><tspan font-style="italic" font-size="16.50">P</tspan><tspan font-size="16.50"> = NS</tspan></text>
<text transform="translate(316.60,657.18) rotate(-90)" x="0" y="0" font-size="19.2" textLength="194.27" lengthAdjust="spacingAndGlyphs"><tspan font-size="19.20">FoxP3</tspan><tspan font-size="11.90" dy="-8.5">+</tspan><tspan font-size="19.20" dy="8.5"> CD4</tspan><tspan font-size="11.90" dy="-8.5">+</tspan><tspan font-size="19.20" dy="8.5"> Tregs /µl</tspan></text>
<path d="M402.0 537.4h6.6l-3.3 5.8zM411.6 534.3h6.6l-3.3 5.8zM402.0 564.1h6.6l-3.3 5.8zM392.2 570.9h6.6l-3.3 5.8zM402.0 574.4h6.6l-3.3 5.8zM411.6 574.1h6.6l-3.3 5.8zM392.2 582.4h6.6l-3.3 5.8zM402.0 584.7h6.6l-3.3 5.8zM411.6 581.5h6.6l-3.3 5.8zM402.0 597.9h6.6l-3.3 5.8zM411.6 595.8h6.6l-3.3 5.8zM402.0 619.0h6.6l-3.3 5.8zM411.6 623.8h6.6l-3.3 5.8zM402.0 632.3h6.6l-3.3 5.8z" fill="#fff" stroke="#222" stroke-width="1.25"/>
<path d="M380.3 585.6H429.7M452.7 590.9H502.9" stroke="#000" stroke-width="2"/>
<circle cx="477.3" cy="468.5" r="2.9" fill="none" stroke="#222" stroke-width="1.25"/>
<circle cx="477.3" cy="547.9" r="2.9" fill="none" stroke="#222" stroke-width="1.25"/>
<circle cx="477.3" cy="590.7" r="2.9" fill="none" stroke="#222" stroke-width="1.25"/>
<circle cx="477.3" cy="629" r="2.9" fill="none" stroke="#222" stroke-width="1.25"/>
<circle cx="486.7" cy="624.7" r="2.9" fill="none" stroke="#222" stroke-width="1.25"/>
</svg></body></html>
